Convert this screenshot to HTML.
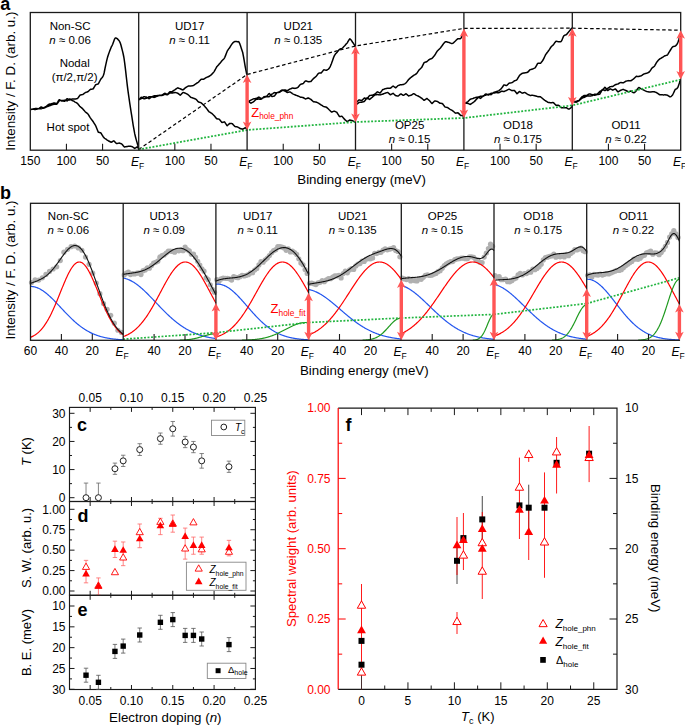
<!DOCTYPE html>
<html><head><meta charset="utf-8"><style>
html,body{margin:0;padding:0;background:#fff;}
body{width:685px;height:725px;overflow:hidden;}
svg{display:block;}
text{font-family:"Liberation Sans", sans-serif;}
</style></head><body>
<svg width="685" height="725" viewBox="0 0 685 725" font-family="Liberation Sans, sans-serif">
<rect width="685" height="725" fill="#fff"/>
<g id="pa">
<path d="M30.7,109.3L31.2,109.32L31.7,109.33L32.2,109.34L32.7,109.35L33.2,109.35L33.7,109.37L34.2,109.39L34.7,109.41L35.2,109.43L35.7,109.44L36.2,109.37L36.7,109.25L37.2,109.12L37.7,108.99L38.2,108.86L38.7,108.64L39.2,108.28L39.7,107.92L40.2,107.56L40.7,107.2L41.2,106.96L41.7,107.21L42.2,107.45L42.7,107.69L43.2,107.93L43.7,108.15L44.2,107.94L44.7,107.73L45.2,107.5L45.7,107.27L46.2,107.03L46.7,106.84L47.2,106.65L47.7,106.46L48.2,106.27L48.7,106.07L49.2,105.87L49.7,105.68L50.2,105.48L50.7,105.28L51.2,105.08L51.7,104.91L52.2,104.77L52.7,104.64L53.2,104.5L53.7,104.38L54.2,104.28L54.7,104.3L55.2,104.32L55.7,104.33L56.2,104.34L56.7,104.34L57.2,103.64L57.7,102.94L58.2,102.24L58.7,101.54L59.2,100.85L59.7,100.64L60.2,100.57L60.7,100.51L61.2,100.46L61.7,100.43L62.2,100.52L62.7,100.7L63.2,100.9L63.7,101.13L64.2,101.37L64.7,101.3L65.2,100.73L65.7,100.16L66.2,99.6L66.7,99.04L67.2,98.65L67.7,98.92L68.2,99.19L68.7,99.46L69.2,99.73L69.7,100L70.2,99.8L70.7,99.6L71.2,99.4L71.7,99.19L72.2,98.98L72.7,98.99L73.2,99.05L73.7,99.09L74.2,99.1L74.7,99.09L75.2,99.04L75.7,98.96L76.2,98.85L76.7,98.74L77.2,98.6L77.7,98.26L78.2,97.6L78.7,96.94L79.2,96.27L79.7,95.59L80.2,95.03L80.7,94.93L81.2,94.83L81.7,94.73L82.2,94.63L82.7,94.52L83.2,94.17L83.7,93.79L84.2,93.41L84.7,93.02L85.2,92.61L85.7,92.42L86.2,92.27L86.7,92.12L87.2,91.95L87.7,91.78L88.2,91.43L88.7,90.96L89.2,90.48L89.7,90L90.2,89.52L90.7,89.21L91.2,89.18L91.7,89.14L92.2,89.1L92.7,89.04L93.2,88.83L93.7,88.01L94.2,87.18L94.7,86.34L95.2,85.49L95.7,84.62L96.2,84.52L96.7,84.4L97.2,84.26L97.7,84.12L98.2,83.96L98.7,83.17L99.2,82.21L99.7,81.24L100.2,80.26L100.7,79.31L101.2,78.62L101.7,78.08L102.2,77.46L102.7,76.72L103.2,75.83L103.7,74.56L104.2,72.49L104.7,70.01L105.2,67.47L105.7,65.2L106.2,62.93L106.7,60.68L107.2,58.58L107.7,56.74L108.2,55.21L108.7,53.83L109.2,52.38L109.7,51.01L110.2,49.7L110.7,48.43L111.2,47.15L111.7,46.2L112.2,45.28L112.7,44.2L113.2,42.86L113.7,41.46L114.2,40.03L114.7,38.8L115.2,38.06L115.7,37.94L116.2,38.08L116.7,38.33L117.2,38.68L117.7,39.13L118.2,39.65L118.7,40.25L119.2,40.91L119.7,41.71L120.2,42.83L120.7,44.3L121.2,46.05L121.7,48.05L122.2,49.91L122.7,51.9L123.2,53.99L123.7,56.49L124.2,59.48L124.7,63.15L125.2,67.19L125.7,71.46L126.2,75.85L126.7,80.27L127.2,84.54L127.7,88.6L128.2,92.4L128.7,95.91L129.2,99.36L129.7,102.78L130.2,106.11L130.7,109.39L131.2,112.59L131.7,115.69L132.2,118.77L132.7,122.11L133.2,125.28L133.7,128.22L134.2,130.99L134.7,133.67L135.2,135.74L135.7,137.72L136.2,139.59L136.7,141.35L137.2,142.99L137.7,144.72L138.2,146.37L138.6,147.9M30.7,109.5L31.2,109.4L31.7,109.29L32.2,109.17L32.7,109.05L33.2,108.92L33.7,108.84L34.2,108.77L34.7,108.69L35.2,108.61L35.7,108.52L36.2,108.52L36.7,108.57L37.2,108.62L37.7,108.67L38.2,108.72L38.7,108.76L39.2,108.79L39.7,108.82L40.2,108.84L40.7,108.87L41.2,108.84L41.7,108.63L42.2,108.41L42.7,108.19L43.2,107.96L43.7,107.72L44.2,107.46L44.7,107.19L45.2,106.92L45.7,106.63L46.2,106.34L46.7,105.96L47.2,105.57L47.7,105.16L48.2,104.76L48.7,104.35L49.2,104.14L49.7,104.05L50.2,103.97L50.7,103.89L51.2,103.81L51.7,103.69L52.2,103.51L52.7,103.34L53.2,103.17L53.7,103.01L54.2,102.92L54.7,103.06L55.2,103.2L55.7,103.34L56.2,103.46L56.7,103.58L57.2,102.82L57.7,102.05L58.2,101.28L58.7,100.51L59.2,99.75L59.7,99.83L60.2,100.12L60.7,100.42L61.2,100.74L61.7,101.08L62.2,101.05L62.7,100.79L63.2,100.55L63.7,100.35L64.2,100.17L64.7,100.13L65.2,100.3L65.7,100.48L66.2,100.66L66.7,100.84L67.2,100.9L67.7,100.5L68.2,100.09L68.7,99.69L69.2,99.29L69.7,98.9L70.2,99.22L70.7,99.54L71.2,99.86L71.7,100.19L72.2,100.52L72.7,100.71L73.2,100.89L73.7,101.14L74.2,101.45L74.7,101.81L75.2,102.1L75.7,102.34L76.2,102.61L76.7,102.92L77.2,103.25L77.7,103.7L78.2,104.32L78.7,104.93L79.2,105.55L79.7,106.16L80.2,106.7L80.7,107.07L81.2,107.47L81.7,107.9L82.2,108.35L82.7,108.82L83.2,109.38L83.7,109.95L84.2,110.54L84.7,111.14L85.2,111.75L85.7,112.18L86.2,112.57L86.7,112.96L87.2,113.35L87.7,113.74L88.2,114.38L88.7,115.19L89.2,115.98L89.7,116.79L90.2,117.61L90.7,118.37L91.2,119.02L91.7,119.69L92.2,120.35L92.7,121.03L93.2,121.73L93.7,122.55L94.2,123.36L94.7,124.17L95.2,124.98L95.7,125.78L96.2,127.05L96.7,128.31L97.2,129.55L97.7,130.79L98.2,132.02L98.7,132.34L99.2,132.45L99.7,132.58L100.2,132.71L100.7,132.84L101.2,133.41L101.7,134.28L102.2,135.13L102.7,135.94L103.2,136.73L103.7,137.38L104.2,137.86L104.7,138.28L105.2,138.64L105.7,138.97L106.2,139.3L106.7,139.68L107.2,140.04L107.7,140.38L108.2,140.72L108.7,141.04L109.2,141.29L109.7,141.53L110.2,141.76L110.7,141.98L111.2,142.19L111.7,142.01L112.2,141.73L112.7,141.45L113.2,141.16L113.7,140.86L114.2,141.08L114.7,141.65L115.2,142.21L115.7,142.77L116.2,143.32L116.7,143.61L117.2,143.49L117.7,143.37L118.2,143.25L118.7,143.12L119.2,143.05L119.7,143.22L120.2,143.39L120.7,143.56L121.2,143.72L121.7,143.88L122.2,144.49L122.7,145.09L123.2,145.69L123.7,146.29L124.2,146.89L124.7,146.94L125.2,146.86L125.7,146.77L126.2,146.68L126.7,146.59L127.2,146.51L127.7,146.43L128.2,146.35L128.7,146.26L129.2,146.18L129.7,146.16L130.2,146.25L130.7,146.34L131.2,146.42L131.7,146.51L132.2,146.64L132.7,146.99L133.2,147.34L133.7,147.69L134.2,148.03L134.7,148.38L135.2,148.09L135.7,147.81L136.2,147.52L136.7,147.22L137.2,146.93L137.7,147.42L138.2,148.1L138.6,148.8M138.7,99.7L139.2,99.21L139.7,98.72L140.2,98.23L140.7,97.74L141.2,97.25L141.7,97.42L142.2,97.74L142.7,98.06L143.2,98.39L143.7,98.72L144.2,98.79L144.7,98.68L145.2,98.58L145.7,98.48L146.2,98.38L146.7,98.2L147.2,97.9L147.7,97.6L148.2,97.3L148.7,97L149.2,96.76L149.7,96.76L150.2,96.76L150.7,96.77L151.2,96.77L151.7,96.78L152.2,96.9L152.7,97.02L153.2,97.15L153.7,97.27L154.2,97.4L154.7,97.25L155.2,97.03L155.7,96.81L156.2,96.6L156.7,96.38L157.2,96.2L157.7,96.04L158.2,95.88L158.7,95.72L159.2,95.56L159.7,95.43L160.2,95.33L160.7,95.24L161.2,95.15L161.7,95.07L162.2,94.94L162.7,94.6L163.2,94.27L163.7,93.93L164.2,93.6L164.7,93.26L165.2,93.51L165.7,93.76L166.2,94.01L166.7,94.25L167.2,94.48L167.7,94.1L168.2,93.55L168.7,92.99L169.2,92.43L169.7,91.86L170.2,91.68L170.7,91.74L171.2,91.72L171.7,91.65L172.2,91.53L172.7,91.29L173.2,90.9L173.7,90.52L174.2,90.17L174.7,89.87L175.2,89.6L175.7,89.22L176.2,88.85L176.7,88.5L177.2,88.16L177.7,87.84L178.2,88.02L178.7,88.21L179.2,88.41L179.7,88.61L180.2,88.81L180.7,89.03L181.2,89.26L181.7,89.49L182.2,89.71L182.7,89.93L183.2,89.76L183.7,89.32L184.2,88.88L184.7,88.42L185.2,87.95L185.7,87.55L186.2,87.25L186.7,86.95L187.2,86.63L187.7,86.31L188.2,86.04L188.7,86.04L189.2,86.03L189.7,86.02L190.2,86L190.7,85.97L191.2,85.91L191.7,85.85L192.2,85.77L192.7,85.7L193.2,85.62L193.7,85.32L194.2,84.96L194.7,84.6L195.2,84.23L195.7,83.87L196.2,83.54L196.7,83.24L197.2,82.93L197.7,82.61L198.2,82.29L198.7,81.87L199.2,81.33L199.7,80.78L200.2,80.22L200.7,79.66L201.2,79.21L201.7,79.22L202.2,79.22L202.7,79.22L203.2,79.22L203.7,79.22L204.2,78.88L204.7,78.55L205.2,78.21L205.7,77.88L206.2,77.54L206.7,77.33L207.2,77.14L207.7,76.94L208.2,76.74L208.7,76.54L209.2,76.26L209.7,75.92L210.2,75.57L210.7,75.21L211.2,74.84L211.7,74.4L212.2,73.85L212.7,73.28L213.2,72.71L213.7,72.12L214.2,71.46L214.7,70.57L215.2,69.67L215.7,68.75L216.2,67.82L216.7,66.87L217.2,66.35L217.7,65.8L218.2,65.25L218.7,64.68L219.2,64.09L219.7,63.5L220.2,62.91L220.7,62.29L221.2,61.67L221.7,61.02L222.2,60.47L222.7,59.98L223.2,59.47L223.7,58.95L224.2,58.4L224.7,57.58L225.2,56.39L225.7,55.13L226.2,53.82L226.7,52.47L227.2,51.21L227.7,50.41L228.2,49.63L228.7,48.91L229.2,48.27L229.7,47.72L230.2,46.74L230.7,45.91L231.2,45.15L231.7,44.38L232.2,43.63L232.7,43.07L233.2,42.59L233.7,42.17L234.2,41.82L234.7,41.56L235.2,41.43L235.7,41.44L236.2,41.5L236.7,41.57L237.2,41.64L237.7,41.65L238.2,41.58L238.7,41.78L239.2,42.48L239.7,43.58L240.2,44.95L240.7,46.36L241.2,47.9L241.7,49.49L242.2,51.03L242.7,52.5L243.2,55.05L243.7,57.74L244.2,60.56L244.7,63.51L245.2,66.56L245.7,69.06L246.2,71.49L246.7,74.01L247.1,74.5M138.7,99.9L139.2,99.66L139.7,99.41L140.2,99.17L140.7,98.93L141.2,98.69L141.7,98.33L142.2,97.95L142.7,97.56L143.2,97.18L143.7,96.79L144.2,96.7L144.7,96.79L145.2,96.88L145.7,96.98L146.2,97.07L146.7,97.26L147.2,97.58L147.7,97.89L148.2,98.21L148.7,98.53L149.2,98.72L149.7,98.35L150.2,97.98L150.7,97.62L151.2,97.25L151.7,96.88L152.2,96.67L152.7,96.46L153.2,96.25L153.7,96.04L154.2,95.83L154.7,95.77L155.2,95.74L155.7,95.71L156.2,95.69L156.7,95.67L157.2,95.62L157.7,95.54L158.2,95.47L158.7,95.4L159.2,95.33L159.7,95.31L160.2,95.35L160.7,95.39L161.2,95.42L161.7,95.46L162.2,95.44L162.7,95.2L163.2,94.96L163.7,94.72L164.2,94.48L164.7,94.24L165.2,94.36L165.7,94.49L166.2,94.62L166.7,94.74L167.2,94.87L167.7,94.58L168.2,94.19L168.7,93.8L169.2,93.42L169.7,93.03L170.2,92.89L170.7,92.92L171.2,92.95L171.7,92.99L172.2,93.03L172.7,93.01L173.2,92.89L173.7,92.78L174.2,92.68L174.7,92.58L175.2,92.53L175.7,92.64L176.2,92.75L176.7,92.88L177.2,93.02L177.7,93.16L178.2,93.56L178.7,93.96L179.2,94.37L179.7,94.78L180.2,95.21L180.7,94.84L181.2,94.28L181.7,93.73L182.2,93.18L182.7,92.64L183.2,92.51L183.7,92.65L184.2,92.8L184.7,92.95L185.2,93.1L185.7,93.31L186.2,93.6L186.7,93.88L187.2,94.18L187.7,94.47L188.2,94.8L188.7,95.26L189.2,95.74L189.7,96.25L190.2,96.79L190.7,97.35L191.2,97.47L191.7,97.61L192.2,97.78L192.7,97.96L193.2,98.15L193.7,98.33L194.2,98.5L194.7,98.68L195.2,98.88L195.7,99.07L196.2,99.49L196.7,100.04L197.2,100.6L197.7,101.15L198.2,101.7L198.7,102.07L199.2,102.2L199.7,102.33L200.2,102.48L200.7,102.64L201.2,102.86L201.7,103.33L202.2,103.81L202.7,104.29L203.2,104.78L203.7,105.27L204.2,105.81L204.7,106.35L205.2,106.9L205.7,107.44L206.2,107.99L206.7,108.65L207.2,109.34L207.7,110.03L208.2,110.71L208.7,111.39L209.2,111.84L209.7,112.14L210.2,112.43L210.7,112.72L211.2,112.99L211.7,113.34L212.2,113.81L212.7,114.27L213.2,114.73L213.7,115.2L214.2,115.7L214.7,116.31L215.2,116.92L215.7,117.54L216.2,118.15L216.7,118.75L217.2,118.84L217.7,118.93L218.2,119.01L218.7,119.09L219.2,119.15L219.7,119.7L220.2,120.36L220.7,121L221.2,121.64L221.7,122.26L222.2,122.44L222.7,122.31L223.2,122.17L223.7,122.02L224.2,121.85L224.7,122.06L225.2,122.85L225.7,123.63L226.2,124.4L226.7,125.17L227.2,125.69L227.7,125.24L228.2,124.79L228.7,124.33L229.2,123.87L229.7,123.4L230.2,123.46L230.7,123.51L231.2,123.55L231.7,123.59L232.2,123.64L232.7,124.1L233.2,124.66L233.7,125.22L234.2,125.78L234.7,126.34L235.2,126.6L235.7,126.68L236.2,126.75L236.7,126.82L237.2,126.88L237.7,127.05L238.2,127.36L238.7,127.67L239.2,127.98L239.7,128.28L240.2,128.55L240.7,128.69L241.2,128.83L241.7,128.97L242.2,129.1L242.7,129.24L243.2,128.94L243.7,128.64L244.2,128.34L244.7,128.04L245.2,127.74L245.7,127.96L246.2,128.32L246.7,128.68L247.1,129.4M248.4,101.4L248.9,101.77L249.4,102.12L249.9,102.47L250.4,102.8L250.9,103.13L251.4,102.98L251.9,102.7L252.4,102.41L252.9,102.12L253.4,101.82L253.9,101.42L254.4,100.97L254.9,100.5L255.4,100.04L255.9,99.57L256.4,99.27L256.9,99.23L257.4,99.19L257.9,99.14L258.4,99.1L258.9,99.07L259.4,99.13L259.9,99.16L260.4,99.16L260.9,99.14L261.4,99.11L261.9,98.65L262.4,98.18L262.9,97.72L263.4,97.25L263.9,96.8L264.4,96.65L264.9,96.6L265.4,96.57L265.9,96.57L266.4,96.6L266.9,96.22L267.4,95.56L267.9,94.91L268.4,94.27L268.9,93.64L269.4,93.52L269.9,94.14L270.4,94.78L270.9,95.41L271.4,96.05L271.9,96.54L272.4,96.44L272.9,96.34L273.4,96.23L273.9,96.12L274.4,96.01L274.9,95.35L275.4,94.68L275.9,94L276.4,93.31L276.9,92.61L277.4,92.5L277.9,92.5L278.4,92.47L278.9,92.4L279.4,92.32L279.9,92.07L280.4,91.71L280.9,91.36L281.4,91.01L281.9,90.69L282.4,90.42L282.9,90.25L283.4,90.11L283.9,90.02L284.4,89.94L284.9,89.92L285.4,90.06L285.9,90.21L286.4,90.37L286.9,90.53L287.4,90.7L287.9,90.37L288.4,90.05L288.9,89.72L289.4,89.39L289.9,89.05L290.4,88.86L290.9,88.69L291.4,88.51L291.9,88.32L292.4,88.12L292.9,88.1L293.4,88.2L293.9,88.28L294.4,88.34L294.9,88.39L295.4,88.35L295.9,88.2L296.4,88.04L296.9,87.87L297.4,87.69L297.9,87.42L298.4,86.81L298.9,86.2L299.4,85.59L299.9,84.99L300.4,84.38L300.9,84.23L301.4,84.08L301.9,83.94L302.4,83.82L302.9,83.69L303.4,83.22L303.9,82.67L304.4,82.12L304.9,81.56L305.4,81.01L305.9,80.9L306.4,81.08L306.9,81.26L307.4,81.44L307.9,81.61L308.4,81.71L308.9,81.68L309.4,81.65L309.9,81.62L310.4,81.58L310.9,81.44L311.4,80.88L311.9,80.31L312.4,79.74L312.9,79.17L313.4,78.6L313.9,78.21L314.4,77.81L314.9,77.41L315.4,77.01L315.9,76.61L316.4,76.02L316.9,75.37L317.4,74.72L317.9,74.07L318.4,73.41L318.9,73.14L319.4,73.12L319.9,73.09L320.4,73.06L320.9,73.03L321.4,72.76L321.9,72.12L322.4,71.48L322.9,70.84L323.4,70.2L323.9,69.71L324.4,69.85L324.9,69.99L325.4,70.11L325.9,70.21L326.4,70.29L326.9,70.03L327.4,69.74L327.9,69.42L328.4,69.07L328.9,68.68L329.4,67.99L329.9,67.09L330.4,66.06L330.9,64.92L331.4,63.71L331.9,62.36L332.4,60.93L332.9,59.5L333.4,58.11L333.9,56.79L334.4,55.66L334.9,54.82L335.4,54.12L335.9,53.57L336.4,53.08L336.9,52.58L337.4,51.9L337.9,51.24L338.4,50.62L338.9,50.01L339.4,49.42L339.9,49.21L340.4,49L340.9,48.79L341.4,48.58L341.9,48.35L342.4,47.98L342.9,47.55L343.4,47.08L343.9,46.58L344.4,46.06L344.9,45.51L345.4,44.93L345.9,44.36L346.4,43.81L346.9,43.27L347.4,42.59L347.9,41.69L348.4,40.84L348.9,40.04L349.4,39.3L349.9,38.84L350.4,39.24L350.9,39.74L351.4,40.38L351.9,41.17L352.4,42.09L352.9,42.65L353.4,43.32L353.9,44.07L354.4,44.89L354.9,45.76L355.3,46M248.4,101.6L248.9,101.29L249.4,100.98L249.9,100.67L250.4,100.36L250.9,100.05L251.4,99.8L251.9,99.56L252.4,99.33L252.9,99.09L253.4,98.86L253.9,98.74L254.4,98.69L254.9,98.64L255.4,98.59L255.9,98.55L256.4,98.41L256.9,98.12L257.4,97.83L257.9,97.55L258.4,97.26L258.9,97.1L259.4,97.41L259.9,97.72L260.4,98.04L260.9,98.35L261.4,98.67L261.9,98.42L262.4,98.18L262.9,97.93L263.4,97.7L263.9,97.47L264.4,97.29L264.9,97.13L265.4,96.97L265.9,96.81L266.4,96.66L266.9,96.61L267.4,96.63L267.9,96.64L268.4,96.66L268.9,96.68L269.4,96.5L269.9,96.02L270.4,95.55L270.9,95.07L271.4,94.58L271.9,94.13L272.4,93.85L272.9,93.56L273.4,93.24L273.9,92.91L274.4,92.57L274.9,92.63L275.4,92.69L275.9,92.74L276.4,92.78L276.9,92.83L277.4,92.64L277.9,92.4L278.4,92.17L278.9,91.95L279.4,91.73L279.9,91.42L280.4,91.04L280.9,90.68L281.4,90.34L281.9,90.03L282.4,89.92L282.9,90.1L283.4,90.31L283.9,90.55L284.4,90.83L284.9,91.11L285.4,91.36L285.9,91.63L286.4,91.93L286.9,92.24L287.4,92.57L287.9,92.41L288.4,92.26L288.9,92.13L289.4,92L289.9,91.88L290.4,92.14L290.9,92.51L291.4,92.87L291.9,93.23L292.4,93.59L292.9,93.89L293.4,94.14L293.9,94.37L294.4,94.6L294.9,94.82L295.4,95.02L295.9,95.21L296.4,95.39L296.9,95.58L297.4,95.76L297.9,95.94L298.4,96.19L298.9,96.43L299.4,96.67L299.9,96.9L300.4,97.14L300.9,97.21L301.4,97.28L301.9,97.35L302.4,97.42L302.9,97.49L303.4,97.73L303.9,98.02L304.4,98.32L304.9,98.61L305.4,98.91L305.9,98.9L306.4,98.68L306.9,98.47L307.4,98.26L307.9,98.06L308.4,98.04L308.9,98.29L309.4,98.55L309.9,98.82L310.4,99.1L310.9,99.42L311.4,99.88L311.9,100.34L312.4,100.81L312.9,101.29L313.4,101.77L313.9,101.81L314.4,101.85L314.9,101.9L315.4,101.94L315.9,101.99L316.4,102.19L316.9,102.44L317.4,102.68L317.9,102.92L318.4,103.15L318.9,103.45L319.4,103.79L319.9,104.12L320.4,104.45L320.9,104.78L321.4,105.1L321.9,105.41L322.4,105.72L322.9,106.03L323.4,106.34L323.9,106.62L324.4,106.72L324.9,106.82L325.4,106.93L325.9,107.04L326.4,107.16L326.9,107.62L327.4,108.09L327.9,108.56L328.4,109.05L328.9,109.55L329.4,110.02L329.9,110.48L330.4,110.95L330.9,111.43L331.4,111.91L331.9,111.98L332.4,111.78L332.9,111.58L333.4,111.38L333.9,111.18L334.4,111.16L334.9,111.41L335.4,111.65L335.9,111.89L336.4,112.13L336.9,112.47L337.4,113.3L337.9,114.11L338.4,114.91L338.9,115.7L339.4,116.48L339.9,116.45L340.4,116.42L340.9,116.38L341.4,116.34L341.9,116.29L342.4,116.76L342.9,117.37L343.4,117.96L343.9,118.56L344.4,119.15L344.9,119.65L345.4,120.09L345.9,120.53L346.4,120.97L346.9,121.4L347.4,121.53L347.9,121.2L348.4,120.87L348.9,120.53L349.4,120.2L349.9,119.97L350.4,120.11L350.9,120.25L351.4,120.39L351.9,120.53L352.4,120.66L352.9,120.9L353.4,121.14L353.9,121.38L354.4,121.61L354.9,121.85L355.3,122M356.6,102L357.1,101.59L357.6,101.18L358.1,100.77L358.6,100.35L359.1,99.94L359.6,99.97L360.1,100.11L360.6,100.25L361.1,100.39L361.6,100.52L362.1,100.27L362.6,99.75L363.1,99.24L363.6,98.72L364.1,98.2L364.6,97.97L365.1,98.17L365.6,98.36L366.1,98.56L366.6,98.75L367.1,98.78L367.6,98.12L368.1,97.46L368.6,96.81L369.1,96.15L369.6,95.5L370.1,95.44L370.6,95.38L371.1,95.32L371.6,95.26L372.1,95.21L372.6,95.04L373.1,94.85L373.6,94.66L374.1,94.47L374.6,94.28L375.1,93.92L375.6,93.45L376.1,92.98L376.6,92.5L377.1,92.03L377.6,91.85L378.1,92.13L378.6,92.41L379.1,92.69L379.6,92.97L380.1,93.05L380.6,92.4L381.1,91.74L381.6,91.08L382.1,90.42L382.6,89.76L383.1,89.55L383.6,89.35L384.1,89.15L384.6,88.95L385.1,88.75L385.6,88.63L386.1,88.52L386.6,88.42L387.1,88.32L387.6,88.22L388.1,88.19L388.6,88.2L389.1,88.22L389.6,88.24L390.1,88.26L390.6,88.1L391.1,87.64L391.6,87.19L392.1,86.75L392.6,86.32L393.1,86.05L393.6,86.4L394.1,86.75L394.6,87.11L395.1,87.47L395.6,87.84L396.1,87.39L396.6,86.93L397.1,86.48L397.6,86.03L398.1,85.57L398.6,85.36L399.1,85.21L399.6,85.05L400.1,84.89L400.6,84.73L401.1,84.66L401.6,84.65L402.1,84.64L402.6,84.61L403.1,84.57L403.6,84.43L404.1,84.14L404.6,83.84L405.1,83.52L405.6,83.14L406.1,82.69L406.6,82.14L407.1,81.54L407.6,80.9L408.1,80.23L408.6,79.54L409.1,79.09L409.6,78.62L410.1,78.16L410.6,77.72L411.1,77.29L411.6,76.91L412.1,76.54L412.6,76.17L413.1,75.79L413.6,75.4L414.1,75.09L414.6,74.82L415.1,74.55L415.6,74.28L416.1,74.01L416.6,73.55L417.1,72.81L417.6,72.08L418.1,71.34L418.6,70.61L419.1,69.92L419.6,69.45L420.1,68.97L420.6,68.5L421.1,68.03L421.6,67.56L422.1,66.58L422.6,65.6L423.1,64.63L423.6,63.65L424.1,62.68L424.6,62.36L425.1,62.21L425.6,62.06L426.1,61.91L426.6,61.76L427.1,61.44L427.6,61L428.1,60.55L428.6,60.11L429.1,59.66L429.6,59.32L430.1,59.14L430.6,58.95L431.1,58.76L431.6,58.56L432.1,58.29L432.6,57.73L433.1,57.17L433.6,56.59L434.1,56.01L434.6,55.42L435.1,54.59L435.6,53.77L436.1,52.94L436.6,52.11L437.1,51.29L437.6,50.73L438.1,50.24L438.6,49.77L439.1,49.3L439.6,48.85L440.1,48.31L440.6,47.71L441.1,47.06L441.6,46.38L442.1,45.69L442.6,44.99L443.1,44.29L443.6,43.62L444.1,42.99L444.6,42.42L445.1,41.96L445.6,41.79L446.1,41.72L446.6,41.76L447.1,41.91L447.6,42.15L448.1,42.25L448.6,42.4L449.1,42.56L449.6,42.72L450.1,42.87L450.6,43.12L451.1,43.35L451.6,43.5L452.1,43.5L452.6,43.36L453.1,43.07L453.6,42.67L454.1,42.22L454.6,41.75L455.1,41.28L455.6,40.77L456.1,40.2L456.6,39.73L457.1,39.31L457.6,38.93L458.1,38.65L458.6,38.68L459.1,38.71L459.6,38.72L460.1,38.7L460.6,38.63L461.1,37.89L461.6,37.03L462.1,35.98L462.6,34.78L463.1,33.5L463.5,33.7M356.6,104.3L357.1,103.93L357.6,103.56L358.1,103.19L358.6,102.83L359.1,102.48L359.6,102.37L360.1,102.34L360.6,102.3L361.1,102.27L361.6,102.23L362.1,102.13L362.6,101.98L363.1,101.84L363.6,101.69L364.1,101.55L364.6,101.18L365.1,100.47L365.6,99.76L366.1,99.06L366.6,98.36L367.1,97.87L367.6,98.18L368.1,98.49L368.6,98.81L369.1,99.14L369.6,99.47L370.1,99.03L370.6,98.6L371.1,98.17L371.6,97.76L372.1,97.35L372.6,96.9L373.1,96.44L373.6,95.99L374.1,95.56L374.6,95.14L375.1,94.91L375.6,94.82L376.1,94.74L376.6,94.66L377.1,94.59L377.6,94.58L378.1,94.64L378.6,94.71L379.1,94.78L379.6,94.85L380.1,94.89L380.6,94.75L381.1,94.61L381.6,94.48L382.1,94.35L382.6,94.22L383.1,94.01L383.6,93.79L384.1,93.58L384.6,93.37L385.1,93.17L385.6,93.02L386.1,92.89L386.6,92.77L387.1,92.64L387.6,92.52L388.1,92.75L388.6,93.2L389.1,93.66L389.6,94.12L390.1,94.59L390.6,94.74L391.1,94.43L391.6,94.12L392.1,93.82L392.6,93.52L393.1,93.36L393.6,93.81L394.1,94.26L394.6,94.71L395.1,95.16L395.6,95.6L396.1,95.7L396.6,95.8L397.1,95.9L397.6,95.99L398.1,96.09L398.6,95.75L399.1,95.3L399.6,94.85L400.1,94.39L400.6,93.94L401.1,93.96L401.6,94.29L402.1,94.62L402.6,94.95L403.1,95.28L403.6,95.34L404.1,94.99L404.6,94.65L405.1,94.3L405.6,93.96L406.1,93.77L406.6,94.21L407.1,94.66L407.6,95.1L408.1,95.55L408.6,96L409.1,95.81L409.6,95.64L410.1,95.49L410.6,95.35L411.1,95.23L411.6,94.94L412.1,94.61L412.6,94.29L413.1,93.98L413.6,93.67L414.1,93.75L414.6,94.1L415.1,94.44L415.6,94.78L416.1,95.12L416.6,95.4L417.1,95.6L417.6,95.82L418.1,96.05L418.6,96.29L419.1,96.55L419.6,96.87L420.1,97.19L420.6,97.51L421.1,97.84L421.6,98.17L422.1,98.6L422.6,99.04L423.1,99.47L423.6,99.89L424.1,100.31L424.6,100.09L425.1,99.7L425.6,99.31L426.1,98.9L426.6,98.47L427.1,98.57L427.6,99.02L428.1,99.45L428.6,99.88L429.1,100.29L429.6,100.78L430.1,101.4L430.6,102L431.1,102.61L431.6,103.21L432.1,103.58L432.6,103.06L433.1,102.54L433.6,102.02L434.1,101.51L434.6,101L435.1,101.05L435.6,101.1L436.1,101.17L436.6,101.24L437.1,101.33L437.6,101.59L438.1,101.92L438.6,102.27L439.1,102.65L439.6,103.05L440.1,103.24L440.6,103.29L441.1,103.35L441.6,103.42L442.1,103.49L442.6,103.8L443.1,104.47L443.6,105.14L444.1,105.79L444.6,106.43L445.1,106.96L445.6,107.11L446.1,107.24L446.6,107.37L447.1,107.49L447.6,107.6L448.1,107.95L448.6,108.3L449.1,108.65L449.6,109L450.1,109.36L450.6,109.63L451.1,109.9L451.6,110.17L452.1,110.45L452.6,110.74L453.1,111.12L453.6,111.56L454.1,112L454.6,112.46L455.1,112.92L455.6,113.16L456.1,113.07L456.6,112.99L457.1,112.91L457.6,112.84L458.1,112.89L458.6,113.38L459.1,113.88L459.6,114.38L460.1,114.89L460.6,115.41L461.1,115.42L461.6,115.44L462.1,115.46L462.6,115.5L463.1,115.53L463.5,117.5M465,103.1L465.5,102.85L466,102.61L466.5,102.37L467,102.14L467.5,101.92L468,101.46L468.5,100.95L469,100.45L469.5,99.95L470,99.47L470.5,99.18L471,99.02L471.5,98.87L472,98.74L472.5,98.62L473,98.46L473.5,98.26L474,98.07L474.5,97.89L475,97.73L475.5,97.58L476,97.45L476.5,97.33L477,97.22L477.5,97.11L478,97.01L478.5,97.28L479,97.55L479.5,97.82L480,98.09L480.5,98.37L481,98.01L481.5,97.49L482,96.97L482.5,96.45L483,95.92L483.5,95.65L484,95.54L484.5,95.42L485,95.29L485.5,95.16L486,95.01L486.5,94.85L487,94.68L487.5,94.51L488,94.34L488.5,94.22L489,94.33L489.5,94.43L490,94.53L490.5,94.63L491,94.72L491.5,94.3L492,93.87L492.5,93.43L493,92.99L493.5,92.54L494,92.34L494.5,92.18L495,92.02L495.5,91.85L496,91.65L496.5,91.5L497,91.36L497.5,91.2L498,91.03L498.5,90.83L499,90.55L499.5,90.14L500,89.72L500.5,89.29L501,88.86L501.5,88.38L502,87.67L502.5,86.96L503,86.25L503.5,85.56L504,84.87L504.5,84.98L505,85.11L505.5,85.26L506,85.42L506.5,85.61L507,85.22L507.5,84.71L508,84.22L508.5,83.75L509,83.29L509.5,83.07L510,83.01L510.5,82.95L511,82.88L511.5,82.81L512,82.64L512.5,82.31L513,81.97L513.5,81.6L514,81.2L514.5,80.81L515,80.65L515.5,80.45L516,80.22L516.5,79.97L517,79.7L517.5,78.82L518,77.95L518.5,77.1L519,76.26L519.5,75.46L520,74.94L520.5,74.53L521,74.15L521.5,73.79L522,73.44L522.5,73.24L523,73.15L523.5,73.06L524,72.98L524.5,72.91L525,72.84L525.5,72.76L526,72.69L526.5,72.61L527,72.54L527.5,72.38L528,71.88L528.5,71.37L529,70.86L529.5,70.34L530,69.8L530.5,69.65L531,69.49L531.5,69.34L532,69.18L532.5,69.01L533,68.81L533.5,68.59L534,68.37L534.5,68.15L535,67.91L535.5,67.29L536,66.41L536.5,65.52L537,64.62L537.5,63.71L538,63.18L538.5,63.24L539,63.29L539.5,63.33L540,63.35L540.5,63.25L541,62.7L541.5,62.1L542,61.45L542.5,60.77L543,60.05L543.5,59.07L544,58.06L544.5,57.03L545,55.99L545.5,54.94L546,54.18L546.5,53.49L547,52.81L547.5,52.15L548,51.5L548.5,50.79L549,50.05L549.5,49.31L550,48.53L550.5,47.74L551,47.04L551.5,46.53L552,46.03L552.5,45.55L553,45.11L553.5,44.62L554,43.8L554.5,43.06L555,42.39L555.5,41.81L556,41.33L556.5,41.36L557,41.43L557.5,41.53L558,41.64L558.5,41.75L559,41.78L559.5,41.78L560,41.75L560.5,41.68L561,41.55L561.5,40.89L562,39.86L562.5,38.74L563,37.57L563.5,36.38L564,35.56L564.5,35.32L565,35.14L565.5,34.98L566,34.83L566.5,34.58L567,33.96L567.5,33.34L568,32.72L568.5,32.1L569,31.49L569.5,30.89L570,30.29L570.5,29.7L571,29.1L571.5,28.51L572,28.11L572.2,28.2M465,103.3L465.5,103.32L466,103.32L466.5,103.31L467,103.28L467.5,103.23L468,103.44L468.5,103.7L469,103.95L469.5,104.19L470,104.42L470.5,104.3L471,103.96L471.5,103.61L472,103.26L472.5,102.9L473,102.55L473.5,102.2L474,101.81L474.5,101.37L475,100.88L475.5,100.37L476,99.84L476.5,99.3L477,98.75L477.5,98.21L478,97.68L478.5,97.32L479,97L479.5,96.72L480,96.5L480.5,96.31L481,96.29L481.5,96.33L482,96.37L482.5,96.42L483,96.47L483.5,96.18L484,95.66L484.5,95.14L485,94.63L485.5,94.13L486,93.92L486.5,94.16L487,94.41L487.5,94.66L488,94.91L488.5,95.04L489,94.69L489.5,94.34L490,93.98L490.5,93.63L491,93.27L491.5,93.23L492,93.19L492.5,93.14L493,93.09L493.5,93.03L494,92.97L494.5,92.89L495,92.8L495.5,92.7L496,92.6L496.5,92.59L497,92.65L497.5,92.71L498,92.76L498.5,92.81L499,92.72L499.5,92.4L500,92.08L500.5,91.77L501,91.46L501.5,91.23L502,91.27L502.5,91.32L503,91.39L503.5,91.46L504,91.56L504.5,91.3L505,91.07L505.5,90.85L506,90.65L506.5,90.48L507,90.2L507.5,89.92L508,89.66L508.5,89.42L509,89.2L509.5,89.28L510,89.56L510.5,89.86L511,90.16L511.5,90.47L512,90.64L512.5,90.59L513,90.54L513.5,90.49L514,90.44L514.5,90.52L515,91.17L515.5,91.8L516,92.44L516.5,93.07L517,93.71L517.5,93.26L518,92.82L518.5,92.37L519,91.93L519.5,91.49L520,91.68L520.5,92.04L521,92.39L521.5,92.75L522,93.1L522.5,93.15L523,92.98L523.5,92.82L524,92.65L524.5,92.48L525,92.52L525.5,92.86L526,93.2L526.5,93.54L527,93.88L527.5,94.2L528,94.46L528.5,94.7L529,94.95L529.5,95.19L530,95.43L530.5,95.4L531,95.38L531.5,95.36L532,95.34L532.5,95.32L533,95.38L533.5,95.47L534,95.57L534.5,95.67L535,95.78L535.5,95.91L536,96.06L536.5,96.23L537,96.4L537.5,96.59L538,96.69L538.5,96.63L539,96.61L539.5,96.64L540,96.69L540.5,96.83L541,97.22L541.5,97.63L542,98.05L542.5,98.46L543,98.86L543.5,99.3L544,99.71L544.5,100.1L545,100.45L545.5,100.75L546,101.08L546.5,101.41L547,101.73L547.5,102.04L548,102.34L548.5,102.5L549,102.56L549.5,102.61L550,102.65L550.5,102.69L551,102.7L551.5,102.67L552,102.64L552.5,102.6L553,102.56L553.5,102.63L554,103.15L554.5,103.67L555,104.19L555.5,104.71L556,105.23L556.5,105.22L557,105.21L557.5,105.21L558,105.21L558.5,105.24L559,105.61L559.5,106.08L560,106.56L560.5,107.04L561,107.52L561.5,107.73L562,107.76L562.5,107.78L563,107.79L563.5,107.79L564,107.78L564.5,107.77L565,107.75L565.5,107.7L566,107.63L566.5,107.65L567,108.08L567.5,108.47L568,108.78L568.5,109L569,109.12L569.5,108.83L570,108.49L570.5,108.09L571,107.65L571.5,107.19L572,106.51L572.2,105.4M573.8,102L574.3,101.86L574.8,101.72L575.3,101.59L575.8,101.46L576.3,101.35L576.8,101.16L577.3,100.97L577.8,100.79L578.3,100.61L578.8,100.45L579.3,100L579.8,99.38L580.3,98.77L580.8,98.15L581.3,97.52L581.8,97.01L582.3,96.7L582.8,96.38L583.3,96.07L583.8,95.76L584.3,95.5L584.8,95.47L585.3,95.44L585.8,95.43L586.3,95.43L586.8,95.45L587.3,95.1L587.8,94.76L588.3,94.46L588.8,94.18L589.3,93.93L589.8,93.96L590.3,94.09L590.8,94.22L591.3,94.37L591.8,94.51L592.3,94.66L592.8,94.82L593.3,94.98L593.8,95.14L594.3,95.29L594.8,95.32L595.3,95.16L595.8,94.99L596.3,94.82L596.8,94.65L597.3,94.5L597.8,94.51L598.3,94.47L598.8,94.37L599.3,94.24L599.8,94.06L600.3,93.18L600.8,92.27L601.3,91.34L601.8,90.41L602.3,89.46L602.8,89.47L603.3,89.71L603.8,89.97L604.3,90.25L604.8,90.56L605.3,90.42L605.8,89.99L606.3,89.56L606.8,89.13L607.3,88.7L607.8,88.31L608.3,87.97L608.8,87.63L609.3,87.3L609.8,86.96L610.3,86.69L610.8,86.63L611.3,86.58L611.8,86.53L612.3,86.49L612.8,86.45L613.3,86.09L613.8,85.74L614.3,85.4L614.8,85.06L615.3,84.73L615.8,84.55L616.3,84.4L616.8,84.27L617.3,84.13L617.8,84L618.3,83.77L618.8,83.49L619.3,83.2L619.8,82.91L620.3,82.62L620.8,82.49L621.3,82.58L621.8,82.68L622.3,82.76L622.8,82.84L623.3,82.84L623.8,82.54L624.3,82.23L624.8,81.91L625.3,81.58L625.8,81.25L626.3,81.13L626.8,81.01L627.3,80.89L627.8,80.76L628.3,80.62L628.8,80.63L629.3,80.67L629.8,80.71L630.3,80.74L630.8,80.78L631.3,80.56L631.8,80.19L632.3,79.82L632.8,79.44L633.3,79.07L633.8,78.66L634.3,78.18L634.8,77.7L635.3,77.21L635.8,76.72L636.3,76.32L636.8,76.36L637.3,76.39L637.8,76.42L638.3,76.46L638.8,76.5L639.3,76.33L639.8,76.18L640.3,76.03L640.8,75.88L641.3,75.75L641.8,75.42L642.3,75.06L642.8,74.71L643.3,74.38L643.8,74.06L644.3,73.86L644.8,73.73L645.3,73.6L645.8,73.47L646.3,73.33L646.8,73.17L647.3,72.98L647.8,72.77L648.3,72.53L648.8,72.27L649.3,71.91L649.8,71.34L650.3,70.66L650.8,69.91L651.3,69.09L651.8,68.23L652.3,67.85L652.8,67.47L653.3,67.09L653.8,66.74L654.3,66.39L654.8,65.6L655.3,64.69L655.8,63.78L656.3,62.91L656.8,62.12L657.3,61.45L657.8,60.88L658.3,60.34L658.8,59.84L659.3,59.36L659.8,58.95L660.3,58.63L660.8,58.32L661.3,58.02L661.8,57.73L662.3,57.43L662.8,57.12L663.3,56.8L663.8,56.46L664.3,56.11L664.8,55.74L665.3,55.65L665.8,55.53L666.3,55.38L666.8,55.21L667.3,55.03L667.8,54.35L668.3,53.53L668.8,52.71L669.3,51.88L669.8,51.04L670.3,50.24L670.8,49.47L671.3,48.7L671.8,47.94L672.3,47.18L672.8,46.68L673.3,46.56L673.8,46.46L674.3,46.36L674.8,46.23L675.3,46.03L675.8,45.62L676.3,45.11L676.8,44.5L677.3,43.67L677.8,42.62L678.3,41.22L678.8,39.66L679.3,37.96L679.8,36.16L680.3,33.7M573.8,102L574.3,102.03L574.8,102.06L575.3,102.1L575.8,102.13L576.3,102.18L576.8,101.97L577.3,101.7L577.8,101.44L578.3,101.18L578.8,100.92L579.3,100.54L579.8,100.06L580.3,99.59L580.8,99.13L581.3,98.68L581.8,98.31L582.3,98.08L582.8,97.86L583.3,97.65L583.8,97.44L584.3,97.24L584.8,96.99L585.3,96.75L585.8,96.52L586.3,96.3L586.8,96.08L587.3,96.07L587.8,96.06L588.3,96.05L588.8,96.05L589.3,96.05L589.8,96.01L590.3,95.97L590.8,95.92L591.3,95.87L591.8,95.82L592.3,95.61L592.8,95.3L593.3,94.98L593.8,94.65L594.3,94.32L594.8,94.14L595.3,94.2L595.8,94.23L596.3,94.23L596.8,94.2L597.3,94.07L597.8,93.55L598.3,93.03L598.8,92.5L599.3,91.96L599.8,91.42L600.3,91.18L600.8,90.96L601.3,90.75L601.8,90.55L602.3,90.38L602.8,89.8L603.3,89.13L603.8,88.5L604.3,87.91L604.8,87.37L605.3,87.56L605.8,88.24L606.3,88.92L606.8,89.61L607.3,90.3L607.8,90.57L608.3,90.19L608.8,89.81L609.3,89.43L609.8,89.06L610.3,88.82L610.8,89.09L611.3,89.36L611.8,89.63L612.3,89.9L612.8,90.18L613.3,89.93L613.8,89.67L614.3,89.42L614.8,89.17L615.3,88.92L615.8,89.34L616.3,89.94L616.8,90.54L617.3,91.15L617.8,91.77L618.3,91.81L618.8,91.47L619.3,91.14L619.8,90.81L620.3,90.47L620.8,90.2L621.3,90.03L621.8,89.84L622.3,89.66L622.8,89.48L623.3,89.37L623.8,89.61L624.3,89.84L624.8,90.07L625.3,90.28L625.8,90.5L626.3,90.75L626.8,91L627.3,91.25L627.8,91.5L628.3,91.75L628.8,91.68L629.3,91.52L629.8,91.37L630.3,91.21L630.8,91.04L631.3,91.2L631.8,91.58L632.3,91.94L632.8,92.3L633.3,92.65L633.8,92.8L634.3,92.58L634.8,92.25L635.3,91.83L635.8,91.34L636.3,90.78L636.8,90.02L637.3,89.29L637.8,88.61L638.3,88.03L638.8,87.57L639.3,87.77L639.8,88.01L640.3,88.29L640.8,88.58L641.3,88.9L641.8,89.15L642.3,89.39L642.8,89.64L643.3,89.89L643.8,90.14L644.3,90.4L644.8,90.67L645.3,90.91L645.8,91.14L646.3,91.37L646.8,91.54L647.3,91.63L647.8,91.73L648.3,91.82L648.8,91.9L649.3,91.97L649.8,91.95L650.3,91.93L650.8,91.91L651.3,91.88L651.8,91.86L652.3,91.84L652.8,91.82L653.3,91.8L653.8,91.78L654.3,91.76L654.8,91.92L655.3,92.13L655.8,92.34L656.3,92.55L656.8,92.77L657.3,93.07L657.8,93.42L658.3,93.78L658.8,94.15L659.3,94.53L659.8,94.76L660.3,94.75L660.8,94.75L661.3,94.76L661.8,94.76L662.3,94.77L662.8,94.87L663.3,94.92L663.8,94.91L664.3,94.85L664.8,94.77L665.3,94.85L665.8,94.93L666.3,95.01L666.8,95.09L667.3,95.17L667.8,95.46L668.3,95.8L668.8,96.15L669.3,96.49L669.8,96.83L670.3,96.83L670.8,96.6L671.3,96.27L671.8,95.81L672.3,95.23L672.8,94.47L673.3,93.51L673.8,92.47L674.3,91.39L674.8,90.27L675.3,89.33L675.8,89.18L676.3,88.96L676.8,88.61L677.3,88.13L677.8,87.54L678.3,86.24L678.8,84.85L679.3,83.38L679.8,81.85L680.3,79.6" fill="none" stroke="#000" stroke-width="1.5" stroke-linejoin="round"/>
<polyline points="138.7,149.5 247.1,74.5 355.5,46 463.9,28.4 572.3,28.2 680.7,30.2" fill="none" stroke="#000" stroke-width="1.2" stroke-dasharray="3.5,2.5"/>
<polyline points="138.7,149.5 247.1,130 355.5,122 463.9,118 572.3,105.4 680.7,79.6" fill="none" stroke="#22b540" stroke-width="1.8" stroke-dasharray="1.9,1.6"/>
<rect x="30.3" y="12.5" width="650.4" height="137.7" fill="none" stroke="#1a1a1a" stroke-width="1.3"/>
<line x1="138.7" y1="12.5" x2="138.7" y2="150.2" stroke="#1a1a1a" stroke-width="1.3"/>
<line x1="247.1" y1="12.5" x2="247.1" y2="150.2" stroke="#1a1a1a" stroke-width="1.3"/>
<line x1="355.5" y1="12.5" x2="355.5" y2="150.2" stroke="#1a1a1a" stroke-width="1.3"/>
<line x1="463.9" y1="12.5" x2="463.9" y2="150.2" stroke="#1a1a1a" stroke-width="1.3"/>
<line x1="572.3" y1="12.5" x2="572.3" y2="150.2" stroke="#1a1a1a" stroke-width="1.3"/>
<path d="M66.43,150.2V143.7M102.57,150.2V143.7M174.83,150.2V143.7M210.97,150.2V143.7M283.23,150.2V143.7M319.37,150.2V143.7M391.63,150.2V143.7M427.77,150.2V143.7M500.03,150.2V143.7M536.17,150.2V143.7M608.43,150.2V143.7M644.57,150.2V143.7" stroke="#1a1a1a" stroke-width="1.1"/>
<line x1="247.1" y1="80.8" x2="247.1" y2="123.7" stroke="#ff5555" stroke-width="3.4"/>
<path d="M247.1,74.5 L251.4,83 L247.1,80.8 L242.8,83 Z" fill="#ff5555"/>
<path d="M247.1,130 L251.4,121.5 L247.1,123.7 L242.8,121.5 Z" fill="#ff5555"/>
<line x1="355.5" y1="52.3" x2="355.5" y2="115.7" stroke="#ff5555" stroke-width="3.4"/>
<path d="M355.5,46 L359.8,54.5 L355.5,52.3 L351.2,54.5 Z" fill="#ff5555"/>
<path d="M355.5,122 L359.8,113.5 L355.5,115.7 L351.2,113.5 Z" fill="#ff5555"/>
<line x1="463.9" y1="34.7" x2="463.9" y2="111.7" stroke="#ff5555" stroke-width="3.4"/>
<path d="M463.9,28.4 L468.2,36.9 L463.9,34.7 L459.6,36.9 Z" fill="#ff5555"/>
<path d="M463.9,118 L468.2,109.5 L463.9,111.7 L459.6,109.5 Z" fill="#ff5555"/>
<line x1="572.3" y1="34.5" x2="572.3" y2="99.1" stroke="#ff5555" stroke-width="3.4"/>
<path d="M572.3,28.2 L576.6,36.7 L572.3,34.5 L568,36.7 Z" fill="#ff5555"/>
<path d="M572.3,105.4 L576.6,96.9 L572.3,99.1 L568,96.9 Z" fill="#ff5555"/>
<line x1="680.7" y1="36.5" x2="680.7" y2="73.3" stroke="#ff5555" stroke-width="3.4"/>
<path d="M680.7,30.2 L685,38.7 L680.7,36.5 L676.4,38.7 Z" fill="#ff5555"/>
<path d="M680.7,79.6 L685,71.1 L680.7,73.3 L676.4,71.1 Z" fill="#ff5555"/>
<text x="30.3" y="165" font-size="12" text-anchor="middle" fill="#000" >150</text>
<text x="66.43" y="165" font-size="12" text-anchor="middle" fill="#000" >100</text>
<text x="102.57" y="165" font-size="12" text-anchor="middle" fill="#000" >50</text>
<text x="137.5" y="165.5" font-size="12" text-anchor="middle"><tspan font-style="italic">E</tspan><tspan font-size="8.5" dy="3">F</tspan></text>
<text x="174.83" y="165" font-size="12" text-anchor="middle" fill="#000" >100</text>
<text x="210.97" y="165" font-size="12" text-anchor="middle" fill="#000" >50</text>
<text x="245.9" y="165.5" font-size="12" text-anchor="middle"><tspan font-style="italic">E</tspan><tspan font-size="8.5" dy="3">F</tspan></text>
<text x="283.23" y="165" font-size="12" text-anchor="middle" fill="#000" >100</text>
<text x="319.37" y="165" font-size="12" text-anchor="middle" fill="#000" >50</text>
<text x="354.3" y="165.5" font-size="12" text-anchor="middle"><tspan font-style="italic">E</tspan><tspan font-size="8.5" dy="3">F</tspan></text>
<text x="391.63" y="165" font-size="12" text-anchor="middle" fill="#000" >100</text>
<text x="427.77" y="165" font-size="12" text-anchor="middle" fill="#000" >50</text>
<text x="462.7" y="165.5" font-size="12" text-anchor="middle"><tspan font-style="italic">E</tspan><tspan font-size="8.5" dy="3">F</tspan></text>
<text x="500.03" y="165" font-size="12" text-anchor="middle" fill="#000" >100</text>
<text x="536.17" y="165" font-size="12" text-anchor="middle" fill="#000" >50</text>
<text x="571.1" y="165.5" font-size="12" text-anchor="middle"><tspan font-style="italic">E</tspan><tspan font-size="8.5" dy="3">F</tspan></text>
<text x="608.43" y="165" font-size="12" text-anchor="middle" fill="#000" >100</text>
<text x="644.57" y="165" font-size="12" text-anchor="middle" fill="#000" >50</text>
<text x="679.5" y="165.5" font-size="12" text-anchor="middle"><tspan font-style="italic">E</tspan><tspan font-size="8.5" dy="3">F</tspan></text>
<text x="361.6" y="183.8" font-size="13.3" text-anchor="middle" fill="#000" >Binding energy (meV)</text>
<text x="70.1" y="30" font-size="11.5" text-anchor="middle" fill="#000" >Non-SC</text>
<text x="70.1" y="43.6" font-size="11.5" text-anchor="middle"><tspan font-style="italic">n</tspan> ≈ 0.06</text>
<text x="74.7" y="66.8" font-size="11.5" text-anchor="middle" fill="#000" >Nodal</text>
<text x="74.6" y="80.7" font-size="11.5" text-anchor="middle" fill="#000" >(π/2,π/2)</text>
<text x="68" y="131.4" font-size="11.5" text-anchor="middle" fill="#000" >Hot spot</text>
<text x="189.6" y="30" font-size="11.5" text-anchor="middle" fill="#000" >UD17</text>
<text x="189.6" y="43.6" font-size="11.5" text-anchor="middle"><tspan font-style="italic">n</tspan> ≈ 0.11</text>
<text x="298.3" y="30" font-size="11.5" text-anchor="middle" fill="#000" >UD21</text>
<text x="298.3" y="43.6" font-size="11.5" text-anchor="middle"><tspan font-style="italic">n</tspan> ≈ 0.135</text>
<text x="409.6" y="129.2" font-size="11.5" text-anchor="middle" fill="#000" >OP25</text>
<text x="409.6" y="142.8" font-size="11.5" text-anchor="middle"><tspan font-style="italic">n</tspan> ≈ 0.15</text>
<text x="518" y="129.2" font-size="11.5" text-anchor="middle" fill="#000" >OD18</text>
<text x="518" y="142.8" font-size="11.5" text-anchor="middle"><tspan font-style="italic">n</tspan> ≈ 0.175</text>
<text x="626" y="129.2" font-size="11.5" text-anchor="middle" fill="#000" >OD11</text>
<text x="626" y="142.8" font-size="11.5" text-anchor="middle"><tspan font-style="italic">n</tspan> ≈ 0.22</text>
<text x="251.2" y="116.8" font-size="13" fill="#ff0000">Z<tspan font-size="8.3" dy="2.6">hole_phn</tspan></text>
<text transform="translate(14.8,81.1) rotate(-90)" font-size="13.4" text-anchor="middle">Intensity / F. D. (arb. u.)</text>
<text x="0.3" y="10" font-size="18" font-weight="bold">a</text>
</g>
<g id="pb">
<g fill="#b0b0b0"><circle cx="31.5" cy="282.62" r="2.6"/><circle cx="35.1" cy="279.94" r="2.6"/><circle cx="38.7" cy="280.1" r="2.6"/><circle cx="42.3" cy="277.82" r="2.6"/><circle cx="45.9" cy="274.4" r="2.6"/><circle cx="49.5" cy="271.46" r="2.6"/><circle cx="53.1" cy="269.01" r="2.6"/><circle cx="56.7" cy="266.8" r="2.6"/><circle cx="60.3" cy="260.56" r="2.6"/><circle cx="63.9" cy="252.14" r="2.6"/><circle cx="67.5" cy="249.29" r="2.6"/><circle cx="71.1" cy="246.71" r="2.6"/><circle cx="74.7" cy="245.98" r="2.6"/><circle cx="78.3" cy="247.88" r="2.6"/><circle cx="81.9" cy="250.25" r="2.6"/><circle cx="85.5" cy="257.07" r="2.6"/><circle cx="89.1" cy="264.3" r="2.6"/><circle cx="92.7" cy="273.22" r="2.6"/><circle cx="96.3" cy="283.01" r="2.6"/><circle cx="99.9" cy="293.72" r="2.6"/><circle cx="103.5" cy="303.5" r="2.6"/><circle cx="107.1" cy="309.35" r="2.6"/><circle cx="110.7" cy="315.34" r="2.6"/><circle cx="114.3" cy="323.2" r="2.6"/><circle cx="117.9" cy="330.24" r="2.6"/><circle cx="121.5" cy="332.42" r="2.6"/><circle cx="124.2" cy="274.89" r="2.6"/><circle cx="126.3" cy="273.19" r="2.6"/><circle cx="128.4" cy="272.09" r="2.6"/><circle cx="130.5" cy="274.54" r="2.6"/><circle cx="132.6" cy="273.7" r="2.6"/><circle cx="134.7" cy="273.88" r="2.6"/><circle cx="136.8" cy="273.21" r="2.6"/><circle cx="138.9" cy="272.96" r="2.6"/><circle cx="141" cy="274.53" r="2.6"/><circle cx="143.1" cy="270.7" r="2.6"/><circle cx="145.2" cy="269.92" r="2.6"/><circle cx="147.3" cy="267.84" r="2.6"/><circle cx="149.4" cy="268.14" r="2.6"/><circle cx="151.5" cy="265.61" r="2.6"/><circle cx="153.6" cy="263.01" r="2.6"/><circle cx="155.7" cy="262.23" r="2.6"/><circle cx="157.8" cy="261.21" r="2.6"/><circle cx="159.9" cy="257.16" r="2.6"/><circle cx="162" cy="255.54" r="2.6"/><circle cx="164.1" cy="254.92" r="2.6"/><circle cx="166.2" cy="253.19" r="2.6"/><circle cx="168.3" cy="251.09" r="2.6"/><circle cx="170.4" cy="251.12" r="2.6"/><circle cx="172.5" cy="251.45" r="2.6"/><circle cx="174.6" cy="252.26" r="2.6"/><circle cx="176.7" cy="250.32" r="2.6"/><circle cx="178.8" cy="250.84" r="2.6"/><circle cx="180.9" cy="249.88" r="2.6"/><circle cx="183" cy="250.68" r="2.6"/><circle cx="185.1" cy="247.09" r="2.6"/><circle cx="187.2" cy="249.63" r="2.6"/><circle cx="189.3" cy="250.9" r="2.6"/><circle cx="191.4" cy="254.13" r="2.6"/><circle cx="193.5" cy="253.98" r="2.6"/><circle cx="195.6" cy="257.29" r="2.6"/><circle cx="197.7" cy="261.26" r="2.6"/><circle cx="199.8" cy="265.1" r="2.6"/><circle cx="201.9" cy="268.74" r="2.6"/><circle cx="204" cy="271.16" r="2.6"/><circle cx="206.1" cy="277.73" r="2.6"/><circle cx="208.2" cy="279.64" r="2.6"/><circle cx="210.3" cy="284.73" r="2.6"/><circle cx="212.4" cy="289.37" r="2.6"/><circle cx="214.5" cy="292.34" r="2.6"/><circle cx="216.9" cy="279.67" r="2.6"/><circle cx="219" cy="281.19" r="2.6"/><circle cx="221.1" cy="278.89" r="2.6"/><circle cx="223.2" cy="278.04" r="2.6"/><circle cx="225.3" cy="278.3" r="2.6"/><circle cx="227.4" cy="278.46" r="2.6"/><circle cx="229.5" cy="278.81" r="2.6"/><circle cx="231.6" cy="280.06" r="2.6"/><circle cx="233.7" cy="276.49" r="2.6"/><circle cx="235.8" cy="277.28" r="2.6"/><circle cx="237.9" cy="277.71" r="2.6"/><circle cx="240" cy="276.71" r="2.6"/><circle cx="242.1" cy="275.35" r="2.6"/><circle cx="244.2" cy="275.94" r="2.6"/><circle cx="246.3" cy="275.33" r="2.6"/><circle cx="248.4" cy="274.71" r="2.6"/><circle cx="250.5" cy="272.94" r="2.6"/><circle cx="252.6" cy="272.74" r="2.6"/><circle cx="254.7" cy="270.01" r="2.6"/><circle cx="256.8" cy="268.49" r="2.6"/><circle cx="258.9" cy="264.93" r="2.6"/><circle cx="261" cy="261.62" r="2.6"/><circle cx="263.1" cy="262.24" r="2.6"/><circle cx="265.2" cy="259.84" r="2.6"/><circle cx="267.3" cy="258.08" r="2.6"/><circle cx="269.4" cy="255.56" r="2.6"/><circle cx="271.5" cy="252.82" r="2.6"/><circle cx="273.6" cy="250.66" r="2.6"/><circle cx="275.7" cy="249.69" r="2.6"/><circle cx="277.8" cy="246.55" r="2.6"/><circle cx="279.9" cy="246.71" r="2.6"/><circle cx="282" cy="247.1" r="2.6"/><circle cx="284.1" cy="247.94" r="2.6"/><circle cx="286.2" cy="250.37" r="2.6"/><circle cx="288.3" cy="248.81" r="2.6"/><circle cx="290.4" cy="251.91" r="2.6"/><circle cx="292.5" cy="251.11" r="2.6"/><circle cx="294.6" cy="252.51" r="2.6"/><circle cx="296.7" cy="254.41" r="2.6"/><circle cx="298.8" cy="258.73" r="2.6"/><circle cx="300.9" cy="262.93" r="2.6"/><circle cx="303" cy="264.79" r="2.6"/><circle cx="305.1" cy="269.6" r="2.6"/><circle cx="307.2" cy="273.48" r="2.6"/><circle cx="309.6" cy="283.36" r="2.6"/><circle cx="311.7" cy="283.05" r="2.6"/><circle cx="313.8" cy="283.82" r="2.6"/><circle cx="315.9" cy="284.55" r="2.6"/><circle cx="318" cy="282.8" r="2.6"/><circle cx="320.1" cy="282.32" r="2.6"/><circle cx="322.2" cy="280.5" r="2.6"/><circle cx="324.3" cy="281.7" r="2.6"/><circle cx="326.4" cy="279.86" r="2.6"/><circle cx="328.5" cy="278.53" r="2.6"/><circle cx="330.6" cy="278.66" r="2.6"/><circle cx="332.7" cy="277.2" r="2.6"/><circle cx="334.8" cy="275.74" r="2.6"/><circle cx="336.9" cy="275.92" r="2.6"/><circle cx="339" cy="275.39" r="2.6"/><circle cx="341.1" cy="277.9" r="2.6"/><circle cx="343.2" cy="273.58" r="2.6"/><circle cx="345.3" cy="271.14" r="2.6"/><circle cx="347.4" cy="272.84" r="2.6"/><circle cx="349.5" cy="269.95" r="2.6"/><circle cx="351.6" cy="268.64" r="2.6"/><circle cx="353.7" cy="269.39" r="2.6"/><circle cx="355.8" cy="265.97" r="2.6"/><circle cx="357.9" cy="264.04" r="2.6"/><circle cx="360" cy="263.59" r="2.6"/><circle cx="362.1" cy="261.12" r="2.6"/><circle cx="364.2" cy="261.43" r="2.6"/><circle cx="366.3" cy="259.02" r="2.6"/><circle cx="368.4" cy="258.66" r="2.6"/><circle cx="370.5" cy="258.83" r="2.6"/><circle cx="372.6" cy="257.96" r="2.6"/><circle cx="374.7" cy="253.3" r="2.6"/><circle cx="376.8" cy="253.53" r="2.6"/><circle cx="378.9" cy="252.43" r="2.6"/><circle cx="381" cy="252.33" r="2.6"/><circle cx="383.1" cy="250.22" r="2.6"/><circle cx="385.2" cy="248.79" r="2.6"/><circle cx="387.3" cy="249.82" r="2.6"/><circle cx="389.4" cy="249.22" r="2.6"/><circle cx="391.5" cy="248.55" r="2.6"/><circle cx="393.6" cy="247.51" r="2.6"/><circle cx="395.7" cy="250.48" r="2.6"/><circle cx="397.8" cy="251.52" r="2.6"/><circle cx="399.9" cy="256.81" r="2.6"/><circle cx="402.3" cy="278.09" r="2.6"/><circle cx="404.4" cy="278.89" r="2.6"/><circle cx="406.5" cy="279.54" r="2.6"/><circle cx="408.6" cy="278.62" r="2.6"/><circle cx="410.7" cy="281" r="2.6"/><circle cx="412.8" cy="279.16" r="2.6"/><circle cx="414.9" cy="280.65" r="2.6"/><circle cx="417" cy="280.97" r="2.6"/><circle cx="419.1" cy="278.78" r="2.6"/><circle cx="421.2" cy="279.3" r="2.6"/><circle cx="423.3" cy="277.23" r="2.6"/><circle cx="425.4" cy="275.3" r="2.6"/><circle cx="427.5" cy="274.82" r="2.6"/><circle cx="429.6" cy="275.49" r="2.6"/><circle cx="431.7" cy="275.25" r="2.6"/><circle cx="433.8" cy="274.25" r="2.6"/><circle cx="435.9" cy="273.45" r="2.6"/><circle cx="438" cy="271.63" r="2.6"/><circle cx="440.1" cy="270.72" r="2.6"/><circle cx="442.2" cy="268.13" r="2.6"/><circle cx="444.3" cy="265.53" r="2.6"/><circle cx="446.4" cy="263.85" r="2.6"/><circle cx="448.5" cy="262.54" r="2.6"/><circle cx="450.6" cy="261.68" r="2.6"/><circle cx="452.7" cy="261.61" r="2.6"/><circle cx="454.8" cy="259.71" r="2.6"/><circle cx="456.9" cy="258.9" r="2.6"/><circle cx="459" cy="258.74" r="2.6"/><circle cx="461.1" cy="258.17" r="2.6"/><circle cx="463.2" cy="258.03" r="2.6"/><circle cx="465.3" cy="258.67" r="2.6"/><circle cx="467.4" cy="258.72" r="2.6"/><circle cx="469.5" cy="256.74" r="2.6"/><circle cx="471.6" cy="256.76" r="2.6"/><circle cx="473.7" cy="257.37" r="2.6"/><circle cx="475.8" cy="259.7" r="2.6"/><circle cx="477.9" cy="259.96" r="2.6"/><circle cx="480" cy="262.24" r="2.6"/><circle cx="482.1" cy="262.59" r="2.6"/><circle cx="484.2" cy="257.03" r="2.6"/><circle cx="486.3" cy="253.19" r="2.6"/><circle cx="488.4" cy="248.48" r="2.6"/><circle cx="490.5" cy="244.19" r="2.6"/><circle cx="492.6" cy="246.27" r="2.6"/><circle cx="495" cy="275.61" r="2.6"/><circle cx="497.1" cy="277.23" r="2.6"/><circle cx="499.2" cy="276.67" r="2.6"/><circle cx="501.3" cy="279.71" r="2.6"/><circle cx="503.4" cy="279.61" r="2.6"/><circle cx="505.5" cy="279.15" r="2.6"/><circle cx="507.6" cy="281.67" r="2.6"/><circle cx="509.7" cy="281.83" r="2.6"/><circle cx="511.8" cy="280.75" r="2.6"/><circle cx="513.9" cy="278.97" r="2.6"/><circle cx="516" cy="278.12" r="2.6"/><circle cx="518.1" cy="274.77" r="2.6"/><circle cx="520.2" cy="273.33" r="2.6"/><circle cx="522.3" cy="274.88" r="2.6"/><circle cx="524.4" cy="273.58" r="2.6"/><circle cx="526.5" cy="273.59" r="2.6"/><circle cx="528.6" cy="271.93" r="2.6"/><circle cx="530.7" cy="272.21" r="2.6"/><circle cx="532.8" cy="269.02" r="2.6"/><circle cx="534.9" cy="269.77" r="2.6"/><circle cx="537" cy="268.47" r="2.6"/><circle cx="539.1" cy="266.63" r="2.6"/><circle cx="541.2" cy="264.18" r="2.6"/><circle cx="543.3" cy="259.88" r="2.6"/><circle cx="545.4" cy="257.58" r="2.6"/><circle cx="547.5" cy="257.18" r="2.6"/><circle cx="549.6" cy="256.28" r="2.6"/><circle cx="551.7" cy="255.94" r="2.6"/><circle cx="553.8" cy="254.11" r="2.6"/><circle cx="555.9" cy="257.13" r="2.6"/><circle cx="558" cy="256.16" r="2.6"/><circle cx="560.1" cy="256.79" r="2.6"/><circle cx="562.2" cy="255.01" r="2.6"/><circle cx="564.3" cy="256.97" r="2.6"/><circle cx="566.4" cy="254.3" r="2.6"/><circle cx="568.5" cy="255.66" r="2.6"/><circle cx="570.6" cy="253.6" r="2.6"/><circle cx="572.7" cy="252.06" r="2.6"/><circle cx="574.8" cy="249.6" r="2.6"/><circle cx="576.9" cy="249.89" r="2.6"/><circle cx="579" cy="249.09" r="2.6"/><circle cx="581.1" cy="248.08" r="2.6"/><circle cx="583.2" cy="250.83" r="2.6"/><circle cx="585.3" cy="251.75" r="2.6"/><circle cx="587.7" cy="275.27" r="2.6"/><circle cx="589.8" cy="274.97" r="2.6"/><circle cx="591.9" cy="277.12" r="2.6"/><circle cx="594" cy="274.45" r="2.6"/><circle cx="596.1" cy="274.8" r="2.6"/><circle cx="598.2" cy="275.12" r="2.6"/><circle cx="600.3" cy="274.09" r="2.6"/><circle cx="602.4" cy="275.12" r="2.6"/><circle cx="604.5" cy="274.33" r="2.6"/><circle cx="606.6" cy="273.53" r="2.6"/><circle cx="608.7" cy="273.96" r="2.6"/><circle cx="610.8" cy="272.94" r="2.6"/><circle cx="612.9" cy="272.12" r="2.6"/><circle cx="615" cy="271.16" r="2.6"/><circle cx="617.1" cy="270.38" r="2.6"/><circle cx="619.2" cy="270.39" r="2.6"/><circle cx="621.3" cy="269.67" r="2.6"/><circle cx="623.4" cy="267.64" r="2.6"/><circle cx="625.5" cy="265.7" r="2.6"/><circle cx="627.6" cy="264.16" r="2.6"/><circle cx="629.7" cy="262.64" r="2.6"/><circle cx="631.8" cy="261.4" r="2.6"/><circle cx="633.9" cy="259.18" r="2.6"/><circle cx="636" cy="258.97" r="2.6"/><circle cx="638.1" cy="259.36" r="2.6"/><circle cx="640.2" cy="258.18" r="2.6"/><circle cx="642.3" cy="256.1" r="2.6"/><circle cx="644.4" cy="255.15" r="2.6"/><circle cx="646.5" cy="252.79" r="2.6"/><circle cx="648.6" cy="251.99" r="2.6"/><circle cx="650.7" cy="251.19" r="2.6"/><circle cx="652.8" cy="254.16" r="2.6"/><circle cx="654.9" cy="252.77" r="2.6"/><circle cx="657" cy="253.09" r="2.6"/><circle cx="659.1" cy="254.68" r="2.6"/><circle cx="661.2" cy="252.54" r="2.6"/><circle cx="663.3" cy="249.78" r="2.6"/><circle cx="665.4" cy="246.29" r="2.6"/><circle cx="667.5" cy="242.44" r="2.6"/><circle cx="669.6" cy="237.01" r="2.6"/><circle cx="671.7" cy="233.95" r="2.6"/><circle cx="673.8" cy="230.6" r="2.6"/><circle cx="675.9" cy="233.93" r="2.6"/><circle cx="678" cy="237.38" r="2.6"/></g>
<path d="M30.5,286.4L31,286.41L31.5,286.44L32,286.48L32.5,286.54L33,286.61L33.5,286.69L34,286.79L34.5,286.9L35,287.03L35.5,287.17L36,287.33L36.5,287.5L37,287.68L37.5,287.88L38,288.08L38.5,288.31L39,288.54L39.5,288.79L40,289.05L40.5,289.32L41,289.61L41.5,289.91L42,290.22L42.5,290.54L43,290.87L43.5,291.21L44,291.56L44.5,291.93L45,292.3L45.5,292.69L46,293.08L46.5,293.48L47,293.89L47.5,294.31L48,294.74L48.5,295.18L49,295.63L49.5,296.08L50,296.54L50.5,297L51,297.48L51.5,297.96L52,298.44L52.5,298.93L53,299.43L53.5,299.93L54,300.43L54.5,300.94L55,301.46L55.5,301.98L56,302.5L56.5,303.02L57,303.55L57.5,304.07L58,304.6L58.5,305.14L59,305.67L59.5,306.2L60,306.74L60.5,307.27L61,307.81L61.5,308.35L62,308.88L62.5,309.42L63,309.95L63.5,310.48L64,311.01L64.5,311.54L65,312.07L65.5,312.6L66,313.12L66.5,313.64L67,314.16L67.5,314.67L68,315.18L68.5,315.69L69,316.19L69.5,316.69L70,317.19L70.5,317.68L71,318.16L71.5,318.64L72,319.12L72.5,319.59L73,320.06L73.5,320.52L74,320.98L74.5,321.43L75,321.88L75.5,322.31L76,322.75L76.5,323.18L77,323.6L77.5,324.01L78,324.42L78.5,324.83L79,325.23L79.5,325.62L80,326L80.5,326.38L81,326.75L81.5,327.12L82,327.48L82.5,327.83L83,328.18L83.5,328.52L84,328.85L84.5,329.18L85,329.5L85.5,329.81L86,330.12L86.5,330.42L87,330.72L87.5,331.01L88,331.29L88.5,331.57L89,331.84L89.5,332.1L90,332.36L90.5,332.61L91,332.86L91.5,333.1L92,333.33L92.5,333.56L93,333.78L93.5,334L94,334.21L94.5,334.41L95,334.61L95.5,334.81L96,335L96.5,335.18L97,335.36L97.5,335.54L98,335.71L98.5,335.87L99,336.03L99.5,336.19L100,336.34L100.5,336.48L101,336.63L101.5,336.76L102,336.9L102.5,337.03L103,337.15L103.5,337.27L104,337.39L104.5,337.5L105,337.61L105.5,337.72L106,337.82L106.5,337.92L107,338.02L107.5,338.11L108,338.2L108.5,338.28L109,338.37L109.5,338.45L110,338.52L110.5,338.6L111,338.67L111.5,338.74L112,338.81L112.5,338.87L113,338.93L113.5,338.99L114,339.05L114.5,339.11L115,339.16L115.5,339.21L116,339.26L116.5,339.31L117,339.35L117.5,339.39L118,339.44L118.5,339.48L119,339.51L119.5,339.55L120,339.59L120.5,339.62L121,339.65L121.5,339.68L122,339.71L122.5,339.74L123,339.77L123.2,339.78M123.2,278.1L123.7,278.19L124.2,278.28L124.7,278.39L125.2,278.52L125.7,278.65L126.2,278.8L126.7,278.95L127.2,279.12L127.7,279.3L128.2,279.49L128.7,279.69L129.2,279.91L129.7,280.13L130.2,280.36L130.7,280.61L131.2,280.87L131.7,281.13L132.2,281.41L132.7,281.7L133.2,281.99L133.7,282.3L134.2,282.61L134.7,282.94L135.2,283.27L135.7,283.62L136.2,283.97L136.7,284.33L137.2,284.7L137.7,285.08L138.2,285.46L138.7,285.86L139.2,286.26L139.7,286.67L140.2,287.08L140.7,287.5L141.2,287.93L141.7,288.37L142.2,288.81L142.7,289.26L143.2,289.72L143.7,290.18L144.2,290.64L144.7,291.11L145.2,291.59L145.7,292.07L146.2,292.55L146.7,293.04L147.2,293.54L147.7,294.03L148.2,294.54L148.7,295.04L149.2,295.55L149.7,296.06L150.2,296.57L150.7,297.08L151.2,297.6L151.7,298.12L152.2,298.64L152.7,299.17L153.2,299.69L153.7,300.21L154.2,300.74L154.7,301.27L155.2,301.79L155.7,302.32L156.2,302.85L156.7,303.38L157.2,303.9L157.7,304.43L158.2,304.96L158.7,305.48L159.2,306L159.7,306.53L160.2,307.05L160.7,307.56L161.2,308.08L161.7,308.6L162.2,309.11L162.7,309.62L163.2,310.13L163.7,310.63L164.2,311.14L164.7,311.64L165.2,312.13L165.7,312.63L166.2,313.11L166.7,313.6L167.2,314.08L167.7,314.56L168.2,315.04L168.7,315.51L169.2,315.98L169.7,316.44L170.2,316.9L170.7,317.35L171.2,317.8L171.7,318.25L172.2,318.69L172.7,319.12L173.2,319.56L173.7,319.98L174.2,320.4L174.7,320.82L175.2,321.23L175.7,321.64L176.2,322.04L176.7,322.43L177.2,322.83L177.7,323.21L178.2,323.59L178.7,323.97L179.2,324.34L179.7,324.7L180.2,325.06L180.7,325.41L181.2,325.76L181.7,326.1L182.2,326.44L182.7,326.77L183.2,327.1L183.7,327.42L184.2,327.74L184.7,328.05L185.2,328.35L185.7,328.65L186.2,328.95L186.7,329.24L187.2,329.52L187.7,329.8L188.2,330.07L188.7,330.34L189.2,330.6L189.7,330.86L190.2,331.11L190.7,331.36L191.2,331.61L191.7,331.84L192.2,332.08L192.7,332.3L193.2,332.53L193.7,332.75L194.2,332.96L194.7,333.17L195.2,333.37L195.7,333.57L196.2,333.77L196.7,333.96L197.2,334.15L197.7,334.33L198.2,334.51L198.7,334.68L199.2,334.85L199.7,335.02L200.2,335.18L200.7,335.33L201.2,335.49L201.7,335.64L202.2,335.78L202.7,335.93L203.2,336.06L203.7,336.2L204.2,336.33L204.7,336.46L205.2,336.58L205.7,336.7L206.2,336.82L206.7,336.94L207.2,337.05L207.7,337.16L208.2,337.26L208.7,337.37L209.2,337.47L209.7,337.56L210.2,337.66L210.7,337.75L211.2,337.84L211.7,337.92L212.2,338L212.7,338.09L213.2,338.16L213.7,338.24L214.2,338.31L214.7,338.39L215.2,338.45L215.7,338.52L215.9,338.55M215.9,284.26L216.4,284.22L216.9,284.19L217.4,284.17L217.9,284.17L218.4,284.19L218.9,284.22L219.4,284.27L219.9,284.34L220.4,284.42L220.9,284.51L221.4,284.63L221.9,284.76L222.4,284.9L222.9,285.06L223.4,285.23L223.9,285.42L224.4,285.63L224.9,285.85L225.4,286.08L225.9,286.33L226.4,286.59L226.9,286.87L227.4,287.16L227.9,287.47L228.4,287.78L228.9,288.12L229.4,288.46L229.9,288.81L230.4,289.18L230.9,289.56L231.4,289.95L231.9,290.36L232.4,290.77L232.9,291.2L233.4,291.63L233.9,292.08L234.4,292.53L234.9,292.99L235.4,293.47L235.9,293.95L236.4,294.44L236.9,294.93L237.4,295.44L237.9,295.95L238.4,296.47L238.9,296.99L239.4,297.52L239.9,298.06L240.4,298.6L240.9,299.15L241.4,299.7L241.9,300.25L242.4,300.81L242.9,301.37L243.4,301.94L243.9,302.51L244.4,303.08L244.9,303.65L245.4,304.22L245.9,304.8L246.4,305.37L246.9,305.95L247.4,306.52L247.9,307.1L248.4,307.68L248.9,308.25L249.4,308.82L249.9,309.4L250.4,309.97L250.9,310.53L251.4,311.1L251.9,311.66L252.4,312.23L252.9,312.78L253.4,313.34L253.9,313.89L254.4,314.43L254.9,314.98L255.4,315.52L255.9,316.05L256.4,316.58L256.9,317.1L257.4,317.62L257.9,318.14L258.4,318.64L258.9,319.15L259.4,319.64L259.9,320.14L260.4,320.62L260.9,321.1L261.4,321.57L261.9,322.04L262.4,322.5L262.9,322.95L263.4,323.4L263.9,323.84L264.4,324.27L264.9,324.7L265.4,325.12L265.9,325.53L266.4,325.93L266.9,326.33L267.4,326.72L267.9,327.11L268.4,327.48L268.9,327.85L269.4,328.21L269.9,328.57L270.4,328.92L270.9,329.26L271.4,329.59L271.9,329.92L272.4,330.23L272.9,330.55L273.4,330.85L273.9,331.15L274.4,331.44L274.9,331.73L275.4,332L275.9,332.28L276.4,332.54L276.9,332.8L277.4,333.05L277.9,333.29L278.4,333.53L278.9,333.77L279.4,333.99L279.9,334.21L280.4,334.43L280.9,334.63L281.4,334.84L281.9,335.03L282.4,335.22L282.9,335.41L283.4,335.59L283.9,335.77L284.4,335.93L284.9,336.1L285.4,336.26L285.9,336.41L286.4,336.56L286.9,336.71L287.4,336.85L287.9,336.98L288.4,337.11L288.9,337.24L289.4,337.36L289.9,337.48L290.4,337.6L290.9,337.71L291.4,337.82L291.9,337.92L292.4,338.02L292.9,338.11L293.4,338.21L293.9,338.3L294.4,338.38L294.9,338.46L295.4,338.54L295.9,338.62L296.4,338.69L296.9,338.77L297.4,338.83L297.9,338.9L298.4,338.96L298.9,339.02L299.4,339.08L299.9,339.14L300.4,339.19L300.9,339.24L301.4,339.29L301.9,339.34L302.4,339.38L302.9,339.43L303.4,339.47L303.9,339.51L304.4,339.55L304.9,339.58L305.4,339.62L305.9,339.65L306.4,339.69L306.9,339.72L307.4,339.74L307.9,339.77L308.4,339.8L308.6,339.81M308.6,289.5L309.1,289.6L309.6,289.7L310.1,289.81L310.6,289.94L311.1,290.07L311.6,290.21L312.1,290.36L312.6,290.53L313.1,290.7L313.6,290.87L314.1,291.06L314.6,291.26L315.1,291.46L315.6,291.68L316.1,291.9L316.6,292.13L317.1,292.37L317.6,292.61L318.1,292.87L318.6,293.13L319.1,293.4L319.6,293.68L320.1,293.96L320.6,294.25L321.1,294.55L321.6,294.85L322.1,295.17L322.6,295.49L323.1,295.81L323.6,296.14L324.1,296.48L324.6,296.82L325.1,297.17L325.6,297.52L326.1,297.88L326.6,298.25L327.1,298.61L327.6,298.99L328.1,299.37L328.6,299.75L329.1,300.14L329.6,300.53L330.1,300.92L330.6,301.32L331.1,301.72L331.6,302.13L332.1,302.53L332.6,302.95L333.1,303.36L333.6,303.77L334.1,304.19L334.6,304.61L335.1,305.03L335.6,305.46L336.1,305.88L336.6,306.31L337.1,306.74L337.6,307.17L338.1,307.6L338.6,308.03L339.1,308.46L339.6,308.89L340.1,309.32L340.6,309.75L341.1,310.18L341.6,310.61L342.1,311.04L342.6,311.47L343.1,311.9L343.6,312.33L344.1,312.76L344.6,313.18L345.1,313.61L345.6,314.03L346.1,314.45L346.6,314.87L347.1,315.28L347.6,315.7L348.1,316.11L348.6,316.52L349.1,316.93L349.6,317.33L350.1,317.74L350.6,318.14L351.1,318.53L351.6,318.93L352.1,319.32L352.6,319.71L353.1,320.09L353.6,320.47L354.1,320.85L354.6,321.22L355.1,321.59L355.6,321.96L356.1,322.32L356.6,322.68L357.1,323.04L357.6,323.39L358.1,323.74L358.6,324.08L359.1,324.42L359.6,324.76L360.1,325.09L360.6,325.41L361.1,325.74L361.6,326.06L362.1,326.37L362.6,326.68L363.1,326.99L363.6,327.29L364.1,327.58L364.6,327.88L365.1,328.16L365.6,328.45L366.1,328.73L366.6,329L367.1,329.27L367.6,329.54L368.1,329.8L368.6,330.06L369.1,330.31L369.6,330.56L370.1,330.8L370.6,331.04L371.1,331.28L371.6,331.51L372.1,331.74L372.6,331.96L373.1,332.18L373.6,332.39L374.1,332.6L374.6,332.81L375.1,333.01L375.6,333.21L376.1,333.4L376.6,333.59L377.1,333.78L377.6,333.96L378.1,334.14L378.6,334.31L379.1,334.48L379.6,334.65L380.1,334.81L380.6,334.97L381.1,335.13L381.6,335.28L382.1,335.43L382.6,335.57L383.1,335.71L383.6,335.85L384.1,335.99L384.6,336.12L385.1,336.25L385.6,336.37L386.1,336.49L386.6,336.61L387.1,336.73L387.6,336.84L388.1,336.95L388.6,337.06L389.1,337.16L389.6,337.26L390.1,337.36L390.6,337.46L391.1,337.55L391.6,337.64L392.1,337.73L392.6,337.82L393.1,337.9L393.6,337.98L394.1,338.06L394.6,338.14L395.1,338.21L395.6,338.29L396.1,338.36L396.6,338.42L397.1,338.49L397.6,338.55L398.1,338.62L398.6,338.68L399.1,338.73L399.6,338.79L400.1,338.85L400.6,338.9L401.1,338.95L401.3,338.97M401.3,285.31L401.8,285.46L402.3,285.63L402.8,285.81L403.3,286L403.8,286.2L404.3,286.41L404.8,286.62L405.3,286.85L405.8,287.09L406.3,287.34L406.8,287.6L407.3,287.86L407.8,288.14L408.3,288.42L408.8,288.72L409.3,289.02L409.8,289.33L410.3,289.65L410.8,289.98L411.3,290.31L411.8,290.66L412.3,291.01L412.8,291.37L413.3,291.73L413.8,292.1L414.3,292.48L414.8,292.87L415.3,293.26L415.8,293.66L416.3,294.06L416.8,294.47L417.3,294.89L417.8,295.31L418.3,295.73L418.8,296.16L419.3,296.6L419.8,297.04L420.3,297.48L420.8,297.93L421.3,298.38L421.8,298.84L422.3,299.3L422.8,299.76L423.3,300.22L423.8,300.69L424.3,301.16L424.8,301.63L425.3,302.1L425.8,302.58L426.3,303.06L426.8,303.54L427.3,304.02L427.8,304.5L428.3,304.98L428.8,305.46L429.3,305.94L429.8,306.42L430.3,306.91L430.8,307.39L431.3,307.87L431.8,308.35L432.3,308.83L432.8,309.31L433.3,309.79L433.8,310.27L434.3,310.74L434.8,311.22L435.3,311.69L435.8,312.16L436.3,312.63L436.8,313.09L437.3,313.55L437.8,314.01L438.3,314.47L438.8,314.93L439.3,315.38L439.8,315.83L440.3,316.27L440.8,316.72L441.3,317.15L441.8,317.59L442.3,318.02L442.8,318.45L443.3,318.87L443.8,319.29L444.3,319.71L444.8,320.12L445.3,320.53L445.8,320.93L446.3,321.33L446.8,321.72L447.3,322.11L447.8,322.5L448.3,322.88L448.8,323.25L449.3,323.62L449.8,323.99L450.3,324.35L450.8,324.71L451.3,325.06L451.8,325.41L452.3,325.75L452.8,326.08L453.3,326.42L453.8,326.74L454.3,327.06L454.8,327.38L455.3,327.69L455.8,328L456.3,328.3L456.8,328.6L457.3,328.89L457.8,329.17L458.3,329.46L458.8,329.73L459.3,330L459.8,330.27L460.3,330.53L460.8,330.79L461.3,331.04L461.8,331.29L462.3,331.53L462.8,331.77L463.3,332L463.8,332.23L464.3,332.45L464.8,332.67L465.3,332.88L465.8,333.09L466.3,333.3L466.8,333.5L467.3,333.69L467.8,333.89L468.3,334.07L468.8,334.26L469.3,334.44L469.8,334.61L470.3,334.78L470.8,334.95L471.3,335.11L471.8,335.27L472.3,335.42L472.8,335.58L473.3,335.72L473.8,335.87L474.3,336.01L474.8,336.14L475.3,336.28L475.8,336.4L476.3,336.53L476.8,336.65L477.3,336.77L477.8,336.89L478.3,337L478.8,337.11L479.3,337.22L479.8,337.32L480.3,337.42L480.8,337.52L481.3,337.62L481.8,337.71L482.3,337.8L482.8,337.89L483.3,337.97L483.8,338.05L484.3,338.13L484.8,338.21L485.3,338.28L485.8,338.36L486.3,338.43L486.8,338.5L487.3,338.56L487.8,338.63L488.3,338.69L488.8,338.75L489.3,338.81L489.8,338.86L490.3,338.92L490.8,338.97L491.3,339.02L491.8,339.07L492.3,339.12L492.8,339.16L493.3,339.21L493.8,339.25L494,339.27M494,284.38L494.5,284.5L495,284.62L495.5,284.76L496,284.91L496.5,285.06L497,285.23L497.5,285.41L498,285.6L498.5,285.81L499,286.02L499.5,286.24L500,286.47L500.5,286.71L501,286.97L501.5,287.23L502,287.5L502.5,287.78L503,288.07L503.5,288.37L504,288.68L504.5,288.99L505,289.32L505.5,289.65L506,289.99L506.5,290.34L507,290.7L507.5,291.07L508,291.44L508.5,291.82L509,292.2L509.5,292.6L510,293L510.5,293.4L511,293.82L511.5,294.23L512,294.66L512.5,295.09L513,295.52L513.5,295.96L514,296.4L514.5,296.85L515,297.31L515.5,297.76L516,298.22L516.5,298.69L517,299.15L517.5,299.62L518,300.1L518.5,300.57L519,301.05L519.5,301.53L520,302.02L520.5,302.5L521,302.99L521.5,303.47L522,303.96L522.5,304.45L523,304.94L523.5,305.43L524,305.92L524.5,306.41L525,306.9L525.5,307.39L526,307.88L526.5,308.37L527,308.86L527.5,309.35L528,309.83L528.5,310.32L529,310.8L529.5,311.28L530,311.76L530.5,312.24L531,312.71L531.5,313.18L532,313.65L532.5,314.12L533,314.58L533.5,315.05L534,315.5L534.5,315.96L535,316.41L535.5,316.86L536,317.3L536.5,317.74L537,318.18L537.5,318.61L538,319.04L538.5,319.46L539,319.88L539.5,320.29L540,320.71L540.5,321.11L541,321.51L541.5,321.91L542,322.3L542.5,322.69L543,323.07L543.5,323.45L544,323.83L544.5,324.19L545,324.56L545.5,324.92L546,325.27L546.5,325.62L547,325.96L547.5,326.3L548,326.63L548.5,326.96L549,327.28L549.5,327.6L550,327.91L550.5,328.22L551,328.52L551.5,328.81L552,329.11L552.5,329.39L553,329.67L553.5,329.95L554,330.22L554.5,330.49L555,330.75L555.5,331L556,331.25L556.5,331.5L557,331.74L557.5,331.98L558,332.21L558.5,332.43L559,332.65L559.5,332.87L560,333.08L560.5,333.29L561,333.49L561.5,333.69L562,333.89L562.5,334.08L563,334.26L563.5,334.44L564,334.62L564.5,334.79L565,334.96L565.5,335.12L566,335.28L566.5,335.44L567,335.59L567.5,335.74L568,335.89L568.5,336.03L569,336.16L569.5,336.3L570,336.43L570.5,336.56L571,336.68L571.5,336.8L572,336.92L572.5,337.03L573,337.14L573.5,337.25L574,337.35L574.5,337.45L575,337.55L575.5,337.65L576,337.74L576.5,337.83L577,337.92L577.5,338L578,338.08L578.5,338.16L579,338.24L579.5,338.31L580,338.39L580.5,338.46L581,338.53L581.5,338.59L582,338.66L582.5,338.72L583,338.78L583.5,338.83L584,338.89L584.5,338.94L585,339L585.5,339.05L586,339.1L586.5,339.14L586.7,339.16M586.7,279.2L587.2,279.19L587.7,279.2L588.2,279.23L588.7,279.28L589.2,279.34L589.7,279.43L590.2,279.53L590.7,279.65L591.2,279.79L591.7,279.95L592.2,280.12L592.7,280.32L593.2,280.53L593.7,280.76L594.2,281L594.7,281.26L595.2,281.54L595.7,281.84L596.2,282.15L596.7,282.48L597.2,282.82L597.7,283.18L598.2,283.55L598.7,283.94L599.2,284.34L599.7,284.76L600.2,285.19L600.7,285.63L601.2,286.09L601.7,286.56L602.2,287.04L602.7,287.53L603.2,288.03L603.7,288.55L604.2,289.07L604.7,289.61L605.2,290.15L605.7,290.71L606.2,291.27L606.7,291.84L607.2,292.42L607.7,293.01L608.2,293.6L608.7,294.2L609.2,294.81L609.7,295.42L610.2,296.04L610.7,296.66L611.2,297.29L611.7,297.92L612.2,298.55L612.7,299.19L613.2,299.83L613.7,300.47L614.2,301.11L614.7,301.76L615.2,302.4L615.7,303.05L616.2,303.7L616.7,304.34L617.2,304.99L617.7,305.63L618.2,306.27L618.7,306.92L619.2,307.55L619.7,308.19L620.2,308.82L620.7,309.45L621.2,310.08L621.7,310.71L622.2,311.32L622.7,311.94L623.2,312.55L623.7,313.15L624.2,313.76L624.7,314.35L625.2,314.94L625.7,315.52L626.2,316.1L626.7,316.67L627.2,317.24L627.7,317.79L628.2,318.35L628.7,318.89L629.2,319.43L629.7,319.96L630.2,320.48L630.7,320.99L631.2,321.5L631.7,322L632.2,322.49L632.7,322.97L633.2,323.45L633.7,323.92L634.2,324.38L634.7,324.83L635.2,325.27L635.7,325.71L636.2,326.13L636.7,326.55L637.2,326.96L637.7,327.36L638.2,327.76L638.7,328.14L639.2,328.52L639.7,328.89L640.2,329.25L640.7,329.6L641.2,329.94L641.7,330.28L642.2,330.61L642.7,330.93L643.2,331.24L643.7,331.55L644.2,331.84L644.7,332.13L645.2,332.41L645.7,332.69L646.2,332.96L646.7,333.22L647.2,333.47L647.7,333.71L648.2,333.95L648.7,334.19L649.2,334.41L649.7,334.63L650.2,334.84L650.7,335.05L651.2,335.25L651.7,335.44L652.2,335.63L652.7,335.81L653.2,335.99L653.7,336.16L654.2,336.32L654.7,336.48L655.2,336.64L655.7,336.78L656.2,336.93L656.7,337.07L657.2,337.2L657.7,337.33L658.2,337.46L658.7,337.58L659.2,337.69L659.7,337.81L660.2,337.91L660.7,338.02L661.2,338.12L661.7,338.21L662.2,338.31L662.7,338.4L663.2,338.48L663.7,338.56L664.2,338.64L664.7,338.72L665.2,338.79L665.7,338.86L666.2,338.93L666.7,338.99L667.2,339.06L667.7,339.11L668.2,339.17L668.7,339.23L669.2,339.28L669.7,339.33L670.2,339.38L670.7,339.42L671.2,339.47L671.7,339.51L672.2,339.55L672.7,339.58L673.2,339.62L673.7,339.66L674.2,339.69L674.7,339.72L675.2,339.75L675.7,339.78L676.2,339.81L676.7,339.83L677.2,339.86L677.7,339.88L678.2,339.9L678.7,339.93L679.2,339.95L679.4,339.95" fill="none" stroke="#2255ee" stroke-width="1.2"/>
<path d="M30.5,337.31L31,337.1L31.5,336.88L32,336.65L32.5,336.41L33,336.15L33.5,335.88L34,335.6L34.5,335.3L35,334.98L35.5,334.65L36,334.31L36.5,333.94L37,333.56L37.5,333.16L38,332.74L38.5,332.3L39,331.85L39.5,331.37L40,330.87L40.5,330.35L41,329.81L41.5,329.25L42,328.67L42.5,328.06L43,327.43L43.5,326.78L44,326.11L44.5,325.41L45,324.69L45.5,323.94L46,323.17L46.5,322.38L47,321.56L47.5,320.72L48,319.85L48.5,318.96L49,318.05L49.5,317.12L50,316.16L50.5,315.18L51,314.18L51.5,313.15L52,312.11L52.5,311.04L53,309.96L53.5,308.86L54,307.73L54.5,306.6L55,305.44L55.5,304.28L56,303.09L56.5,301.9L57,300.69L57.5,299.48L58,298.26L58.5,297.02L59,295.79L59.5,294.55L60,293.31L60.5,292.06L61,290.82L61.5,289.58L62,288.35L62.5,287.12L63,285.9L63.5,284.69L64,283.49L64.5,282.31L65,281.14L65.5,279.99L66,278.86L66.5,277.75L67,276.66L67.5,275.6L68,274.57L68.5,273.57L69,272.6L69.5,271.66L70,270.75L70.5,269.88L71,269.05L71.5,268.26L72,267.52L72.5,266.81L73,266.15L73.5,265.53L74,264.96L74.5,264.43L75,263.96L75.5,263.53L76,263.16L76.5,262.84L77,262.57L77.5,262.35L78,262.18L78.5,262.07L79,262.01L79.5,262L80,262.05L80.5,262.15L81,262.31L81.5,262.52L82,262.78L82.5,263.09L83,263.46L83.5,263.87L84,264.34L84.5,264.85L85,265.41L85.5,266.02L86,266.67L86.5,267.37L87,268.11L87.5,268.89L88,269.72L88.5,270.58L89,271.47L89.5,272.41L90,273.37L90.5,274.37L91,275.39L91.5,276.45L92,277.53L92.5,278.63L93,279.76L93.5,280.91L94,282.07L94.5,283.25L95,284.45L95.5,285.66L96,286.87L96.5,288.1L97,289.33L97.5,290.57L98,291.81L98.5,293.06L99,294.3L99.5,295.54L100,296.78L100.5,298.01L101,299.23L101.5,300.45L102,301.66L102.5,302.86L103,304.04L103.5,305.21L104,306.37L104.5,307.51L105,308.63L105.5,309.74L106,310.83L106.5,311.9L107,312.94L107.5,313.97L108,314.98L108.5,315.96L109,316.93L109.5,317.87L110,318.78L110.5,319.68L111,320.55L111.5,321.39L112,322.22L112.5,323.01L113,323.79L113.5,324.54L114,325.27L114.5,325.97L115,326.65L115.5,327.31L116,327.94L116.5,328.55L117,329.14L117.5,329.7L118,330.25L118.5,330.77L119,331.27L119.5,331.75L120,332.21L120.5,332.65L121,333.08L121.5,333.48L122,333.87L122.5,334.23L123,334.58L123.2,334.72M123.2,336.63L123.7,336.45L124.2,336.25L124.7,336.05L125.2,335.85L125.7,335.63L126.2,335.4L126.7,335.17L127.2,334.93L127.7,334.67L128.2,334.41L128.7,334.14L129.2,333.86L129.7,333.57L130.2,333.26L130.7,332.95L131.2,332.63L131.7,332.29L132.2,331.95L132.7,331.59L133.2,331.22L133.7,330.84L134.2,330.44L134.7,330.04L135.2,329.62L135.7,329.19L136.2,328.74L136.7,328.29L137.2,327.82L137.7,327.33L138.2,326.84L138.7,326.33L139.2,325.8L139.7,325.27L140.2,324.72L140.7,324.15L141.2,323.57L141.7,322.98L142.2,322.37L142.7,321.75L143.2,321.12L143.7,320.47L144.2,319.81L144.7,319.14L145.2,318.45L145.7,317.74L146.2,317.03L146.7,316.3L147.2,315.56L147.7,314.8L148.2,314.04L148.7,313.26L149.2,312.47L149.7,311.66L150.2,310.85L150.7,310.02L151.2,309.18L151.7,308.34L152.2,307.48L152.7,306.61L153.2,305.74L153.7,304.85L154.2,303.96L154.7,303.06L155.2,302.15L155.7,301.24L156.2,300.32L156.7,299.39L157.2,298.46L157.7,297.52L158.2,296.58L158.7,295.64L159.2,294.7L159.7,293.75L160.2,292.81L160.7,291.86L161.2,290.92L161.7,289.97L162.2,289.03L162.7,288.09L163.2,287.16L163.7,286.23L164.2,285.31L164.7,284.39L165.2,283.48L165.7,282.58L166.2,281.68L166.7,280.8L167.2,279.93L167.7,279.07L168.2,278.22L168.7,277.38L169.2,276.56L169.7,275.75L170.2,274.96L170.7,274.19L171.2,273.43L171.7,272.69L172.2,271.97L172.7,271.27L173.2,270.59L173.7,269.93L174.2,269.29L174.7,268.68L175.2,268.09L175.7,267.52L176.2,266.98L176.7,266.46L177.2,265.97L177.7,265.51L178.2,265.07L178.7,264.66L179.2,264.28L179.7,263.92L180.2,263.6L180.7,263.3L181.2,263.04L181.7,262.8L182.2,262.59L182.7,262.42L183.2,262.27L183.7,262.16L184.2,262.08L184.7,262.02L185.2,262L185.7,262.01L186.2,262.05L186.7,262.12L187.2,262.22L187.7,262.36L188.2,262.52L188.7,262.72L189.2,262.94L189.7,263.19L190.2,263.48L190.7,263.79L191.2,264.13L191.7,264.5L192.2,264.9L192.7,265.33L193.2,265.78L193.7,266.26L194.2,266.77L194.7,267.3L195.2,267.86L195.7,268.44L196.2,269.05L196.7,269.67L197.2,270.32L197.7,270.99L198.2,271.69L198.7,272.4L199.2,273.13L199.7,273.88L200.2,274.65L200.7,275.43L201.2,276.23L201.7,277.05L202.2,277.88L202.7,278.72L203.2,279.58L203.7,280.45L204.2,281.33L204.7,282.22L205.2,283.12L205.7,284.02L206.2,284.94L206.7,285.86L207.2,286.79L207.7,287.72L208.2,288.66L208.7,289.6L209.2,290.54L209.7,291.48L210.2,292.43L210.7,293.38L211.2,294.32L211.7,295.27L212.2,296.21L212.7,297.15L213.2,298.09L213.7,299.02L214.2,299.95L214.7,300.87L215.2,301.79L215.7,302.7L215.9,303.06M215.9,337.1L216.4,336.94L216.9,336.78L217.4,336.61L217.9,336.43L218.4,336.25L218.9,336.05L219.4,335.86L219.9,335.65L220.4,335.44L220.9,335.21L221.4,334.98L221.9,334.75L222.4,334.5L222.9,334.24L223.4,333.98L223.9,333.7L224.4,333.42L224.9,333.13L225.4,332.82L225.9,332.51L226.4,332.19L226.9,331.85L227.4,331.51L227.9,331.15L228.4,330.79L228.9,330.41L229.4,330.02L229.9,329.62L230.4,329.21L230.9,328.79L231.4,328.35L231.9,327.91L232.4,327.45L232.9,326.98L233.4,326.5L233.9,326L234.4,325.49L234.9,324.97L235.4,324.44L235.9,323.9L236.4,323.34L236.9,322.77L237.4,322.18L237.9,321.59L238.4,320.98L238.9,320.36L239.4,319.73L239.9,319.08L240.4,318.42L240.9,317.75L241.4,317.07L241.9,316.38L242.4,315.67L242.9,314.95L243.4,314.22L243.9,313.48L244.4,312.73L244.9,311.97L245.4,311.19L245.9,310.41L246.4,309.62L246.9,308.81L247.4,308L247.9,307.18L248.4,306.35L248.9,305.51L249.4,304.66L249.9,303.81L250.4,302.95L250.9,302.08L251.4,301.21L251.9,300.33L252.4,299.45L252.9,298.56L253.4,297.67L253.9,296.77L254.4,295.87L254.9,294.97L255.4,294.07L255.9,293.17L256.4,292.27L256.9,291.36L257.4,290.46L257.9,289.56L258.4,288.67L258.9,287.77L259.4,286.88L259.9,286L260.4,285.12L260.9,284.24L261.4,283.37L261.9,282.51L262.4,281.66L262.9,280.82L263.4,279.98L263.9,279.16L264.4,278.35L264.9,277.55L265.4,276.76L265.9,275.99L266.4,275.23L266.9,274.48L267.4,273.75L267.9,273.04L268.4,272.34L268.9,271.66L269.4,271L269.9,270.36L270.4,269.74L270.9,269.14L271.4,268.56L271.9,268L272.4,267.46L272.9,266.95L273.4,266.45L273.9,265.98L274.4,265.54L274.9,265.12L275.4,264.72L275.9,264.36L276.4,264.01L276.9,263.69L277.4,263.4L277.9,263.14L278.4,262.9L278.9,262.69L279.4,262.51L279.9,262.35L280.4,262.23L280.9,262.13L281.4,262.06L281.9,262.01L282.4,262L282.9,262.01L283.4,262.06L283.9,262.13L284.4,262.23L284.9,262.35L285.4,262.51L285.9,262.69L286.4,262.9L286.9,263.14L287.4,263.4L287.9,263.69L288.4,264.01L288.9,264.36L289.4,264.72L289.9,265.12L290.4,265.54L290.9,265.98L291.4,266.45L291.9,266.95L292.4,267.46L292.9,268L293.4,268.56L293.9,269.14L294.4,269.74L294.9,270.36L295.4,271L295.9,271.66L296.4,272.34L296.9,273.04L297.4,273.75L297.9,274.48L298.4,275.23L298.9,275.99L299.4,276.76L299.9,277.55L300.4,278.35L300.9,279.16L301.4,279.98L301.9,280.82L302.4,281.66L302.9,282.51L303.4,283.37L303.9,284.24L304.4,285.12L304.9,286L305.4,286.88L305.9,287.77L306.4,288.67L306.9,289.56L307.4,290.46L307.9,291.36L308.4,292.27L308.6,292.63M308.6,335.09L309.1,334.89L309.6,334.68L310.1,334.46L310.6,334.24L311.1,334.01L311.6,333.78L312.1,333.54L312.6,333.29L313.1,333.03L313.6,332.77L314.1,332.5L314.6,332.22L315.1,331.93L315.6,331.64L316.1,331.34L316.6,331.03L317.1,330.71L317.6,330.38L318.1,330.05L318.6,329.7L319.1,329.35L319.6,328.99L320.1,328.62L320.6,328.24L321.1,327.86L321.6,327.46L322.1,327.06L322.6,326.64L323.1,326.22L323.6,325.79L324.1,325.35L324.6,324.9L325.1,324.44L325.6,323.97L326.1,323.49L326.6,323L327.1,322.5L327.6,321.99L328.1,321.48L328.6,320.95L329.1,320.42L329.6,319.87L330.1,319.32L330.6,318.76L331.1,318.19L331.6,317.6L332.1,317.01L332.6,316.42L333.1,315.81L333.6,315.19L334.1,314.57L334.6,313.93L335.1,313.29L335.6,312.64L336.1,311.98L336.6,311.32L337.1,310.64L337.6,309.96L338.1,309.27L338.6,308.58L339.1,307.87L339.6,307.17L340.1,306.45L340.6,305.73L341.1,305L341.6,304.27L342.1,303.53L342.6,302.79L343.1,302.04L343.6,301.28L344.1,300.53L344.6,299.77L345.1,299L345.6,298.24L346.1,297.47L346.6,296.69L347.1,295.92L347.6,295.14L348.1,294.37L348.6,293.59L349.1,292.81L349.6,292.03L350.1,291.25L350.6,290.47L351.1,289.7L351.6,288.92L352.1,288.15L352.6,287.38L353.1,286.62L353.6,285.85L354.1,285.1L354.6,284.34L355.1,283.59L355.6,282.85L356.1,282.11L356.6,281.38L357.1,280.65L357.6,279.94L358.1,279.23L358.6,278.52L359.1,277.83L359.6,277.15L360.1,276.47L360.6,275.81L361.1,275.16L361.6,274.51L362.1,273.88L362.6,273.27L363.1,272.66L363.6,272.07L364.1,271.49L364.6,270.92L365.1,270.37L365.6,269.83L366.1,269.31L366.6,268.8L367.1,268.31L367.6,267.83L368.1,267.37L368.6,266.93L369.1,266.51L369.6,266.1L370.1,265.71L370.6,265.34L371.1,264.98L371.6,264.65L372.1,264.33L372.6,264.04L373.1,263.76L373.6,263.5L374.1,263.26L374.6,263.05L375.1,262.85L375.6,262.67L376.1,262.51L376.6,262.38L377.1,262.26L377.6,262.17L378.1,262.09L378.6,262.04L379.1,262.01L379.6,262L380.1,262.01L380.6,262.04L381.1,262.09L381.6,262.17L382.1,262.26L382.6,262.38L383.1,262.51L383.6,262.67L384.1,262.85L384.6,263.05L385.1,263.26L385.6,263.5L386.1,263.76L386.6,264.04L387.1,264.33L387.6,264.65L388.1,264.98L388.6,265.34L389.1,265.71L389.6,266.1L390.1,266.51L390.6,266.93L391.1,267.37L391.6,267.83L392.1,268.31L392.6,268.8L393.1,269.31L393.6,269.83L394.1,270.37L394.6,270.92L395.1,271.49L395.6,272.07L396.1,272.66L396.6,273.27L397.1,273.88L397.6,274.51L398.1,275.16L398.6,275.81L399.1,276.47L399.6,277.15L400.1,277.83L400.6,278.52L401.1,279.23L401.3,279.51M401.3,333.66L401.8,333.42L402.3,333.18L402.8,332.94L403.3,332.68L403.8,332.43L404.3,332.16L404.8,331.89L405.3,331.61L405.8,331.32L406.3,331.02L406.8,330.72L407.3,330.41L407.8,330.09L408.3,329.77L408.8,329.44L409.3,329.1L409.8,328.75L410.3,328.39L410.8,328.03L411.3,327.66L411.8,327.28L412.3,326.89L412.8,326.49L413.3,326.09L413.8,325.67L414.3,325.25L414.8,324.82L415.3,324.38L415.8,323.94L416.3,323.48L416.8,323.02L417.3,322.55L417.8,322.07L418.3,321.58L418.8,321.08L419.3,320.57L419.8,320.06L420.3,319.54L420.8,319L421.3,318.46L421.8,317.92L422.3,317.36L422.8,316.8L423.3,316.23L423.8,315.65L424.3,315.06L424.8,314.46L425.3,313.86L425.8,313.25L426.3,312.63L426.8,312.01L427.3,311.37L427.8,310.73L428.3,310.09L428.8,309.43L429.3,308.78L429.8,308.11L430.3,307.44L430.8,306.76L431.3,306.08L431.8,305.39L432.3,304.7L432.8,304L433.3,303.29L433.8,302.59L434.3,301.87L434.8,301.16L435.3,300.44L435.8,299.71L436.3,298.99L436.8,298.26L437.3,297.53L437.8,296.79L438.3,296.06L438.8,295.32L439.3,294.58L439.8,293.84L440.3,293.1L440.8,292.36L441.3,291.63L441.8,290.89L442.3,290.15L442.8,289.41L443.3,288.68L443.8,287.94L444.3,287.21L444.8,286.49L445.3,285.76L445.8,285.04L446.3,284.32L446.8,283.61L447.3,282.91L447.8,282.2L448.3,281.51L448.8,280.82L449.3,280.13L449.8,279.46L450.3,278.79L450.8,278.13L451.3,277.47L451.8,276.83L452.3,276.19L452.8,275.56L453.3,274.95L453.8,274.34L454.3,273.74L454.8,273.16L455.3,272.58L455.8,272.02L456.3,271.47L456.8,270.93L457.3,270.41L457.8,269.9L458.3,269.4L458.8,268.91L459.3,268.44L459.8,267.98L460.3,267.54L460.8,267.12L461.3,266.7L461.8,266.31L462.3,265.93L462.8,265.57L463.3,265.22L463.8,264.89L464.3,264.57L464.8,264.28L465.3,264L465.8,263.74L466.3,263.49L466.8,263.27L467.3,263.06L467.8,262.87L468.3,262.7L468.8,262.55L469.3,262.41L469.8,262.3L470.3,262.2L470.8,262.12L471.3,262.06L471.8,262.02L472.3,262L472.8,262L473.3,262.02L473.8,262.05L474.3,262.11L474.8,262.18L475.3,262.28L475.8,262.39L476.3,262.52L476.8,262.67L477.3,262.83L477.8,263.02L478.3,263.22L478.8,263.45L479.3,263.69L479.8,263.95L480.3,264.22L480.8,264.51L481.3,264.82L481.8,265.15L482.3,265.49L482.8,265.85L483.3,266.23L483.8,266.62L484.3,267.03L484.8,267.46L485.3,267.89L485.8,268.35L486.3,268.82L486.8,269.3L487.3,269.79L487.8,270.3L488.3,270.83L488.8,271.36L489.3,271.91L489.8,272.47L490.3,273.04L490.8,273.63L491.3,274.22L491.8,274.83L492.3,275.44L492.8,276.06L493.3,276.7L493.8,277.34L494,277.6M494,336.28L494.5,336.1L495,335.91L495.5,335.72L496,335.52L496.5,335.31L497,335.1L497.5,334.87L498,334.64L498.5,334.4L499,334.16L499.5,333.9L500,333.64L500.5,333.37L501,333.09L501.5,332.8L502,332.5L502.5,332.2L503,331.88L503.5,331.56L504,331.22L504.5,330.88L505,330.52L505.5,330.15L506,329.78L506.5,329.39L507,329L507.5,328.59L508,328.17L508.5,327.75L509,327.31L509.5,326.86L510,326.4L510.5,325.92L511,325.44L511.5,324.95L512,324.44L512.5,323.92L513,323.39L513.5,322.85L514,322.3L514.5,321.74L515,321.16L515.5,320.58L516,319.98L516.5,319.37L517,318.76L517.5,318.13L518,317.48L518.5,316.83L519,316.17L519.5,315.49L520,314.81L520.5,314.12L521,313.41L521.5,312.7L522,311.97L522.5,311.24L523,310.5L523.5,309.74L524,308.98L524.5,308.21L525,307.44L525.5,306.65L526,305.86L526.5,305.06L527,304.25L527.5,303.44L528,302.62L528.5,301.79L529,300.96L529.5,300.12L530,299.28L530.5,298.44L531,297.59L531.5,296.74L532,295.89L532.5,295.04L533,294.18L533.5,293.32L534,292.47L534.5,291.61L535,290.75L535.5,289.9L536,289.04L536.5,288.19L537,287.35L537.5,286.5L538,285.66L538.5,284.83L539,284L539.5,283.18L540,282.36L540.5,281.56L541,280.76L541.5,279.97L542,279.18L542.5,278.41L543,277.65L543.5,276.9L544,276.17L544.5,275.44L545,274.73L545.5,274.03L546,273.35L546.5,272.68L547,272.03L547.5,271.39L548,270.77L548.5,270.17L549,269.58L549.5,269.01L550,268.47L550.5,267.94L551,267.43L551.5,266.94L552,266.47L552.5,266.03L553,265.6L553.5,265.2L554,264.82L554.5,264.46L555,264.13L555.5,263.82L556,263.53L556.5,263.27L557,263.03L557.5,262.81L558,262.62L558.5,262.46L559,262.32L559.5,262.2L560,262.11L560.5,262.05L561,262.01L561.5,262L562,262.01L562.5,262.05L563,262.11L563.5,262.2L564,262.32L564.5,262.46L565,262.62L565.5,262.81L566,263.03L566.5,263.27L567,263.53L567.5,263.82L568,264.13L568.5,264.46L569,264.82L569.5,265.2L570,265.6L570.5,266.03L571,266.47L571.5,266.94L572,267.43L572.5,267.94L573,268.47L573.5,269.01L574,269.58L574.5,270.17L575,270.77L575.5,271.39L576,272.03L576.5,272.68L577,273.35L577.5,274.03L578,274.73L578.5,275.44L579,276.17L579.5,276.9L580,277.65L580.5,278.41L581,279.18L581.5,279.97L582,280.76L582.5,281.56L583,282.36L583.5,283.18L584,284L584.5,284.83L585,285.66L585.5,286.5L586,287.35L586.5,288.19L586.7,288.53M586.7,336.45L587.2,336.25L587.7,336.05L588.2,335.85L588.7,335.63L589.2,335.4L589.7,335.17L590.2,334.93L590.7,334.67L591.2,334.41L591.7,334.14L592.2,333.86L592.7,333.57L593.2,333.26L593.7,332.95L594.2,332.63L594.7,332.29L595.2,331.95L595.7,331.59L596.2,331.22L596.7,330.84L597.2,330.44L597.7,330.04L598.2,329.62L598.7,329.19L599.2,328.74L599.7,328.29L600.2,327.82L600.7,327.33L601.2,326.84L601.7,326.33L602.2,325.8L602.7,325.27L603.2,324.72L603.7,324.15L604.2,323.57L604.7,322.98L605.2,322.37L605.7,321.75L606.2,321.12L606.7,320.47L607.2,319.81L607.7,319.14L608.2,318.45L608.7,317.74L609.2,317.03L609.7,316.3L610.2,315.56L610.7,314.8L611.2,314.04L611.7,313.26L612.2,312.47L612.7,311.66L613.2,310.85L613.7,310.02L614.2,309.18L614.7,308.34L615.2,307.48L615.7,306.61L616.2,305.74L616.7,304.85L617.2,303.96L617.7,303.06L618.2,302.15L618.7,301.24L619.2,300.32L619.7,299.39L620.2,298.46L620.7,297.52L621.2,296.58L621.7,295.64L622.2,294.7L622.7,293.75L623.2,292.81L623.7,291.86L624.2,290.92L624.7,289.97L625.2,289.03L625.7,288.09L626.2,287.16L626.7,286.23L627.2,285.31L627.7,284.39L628.2,283.48L628.7,282.58L629.2,281.68L629.7,280.8L630.2,279.93L630.7,279.07L631.2,278.22L631.7,277.38L632.2,276.56L632.7,275.75L633.2,274.96L633.7,274.19L634.2,273.43L634.7,272.69L635.2,271.97L635.7,271.27L636.2,270.59L636.7,269.93L637.2,269.29L637.7,268.68L638.2,268.09L638.7,267.52L639.2,266.98L639.7,266.46L640.2,265.97L640.7,265.51L641.2,265.07L641.7,264.66L642.2,264.28L642.7,263.92L643.2,263.6L643.7,263.3L644.2,263.04L644.7,262.8L645.2,262.59L645.7,262.42L646.2,262.27L646.7,262.16L647.2,262.08L647.7,262.02L648.2,262L648.7,262.01L649.2,262.05L649.7,262.12L650.2,262.22L650.7,262.36L651.2,262.52L651.7,262.72L652.2,262.94L652.7,263.19L653.2,263.48L653.7,263.79L654.2,264.13L654.7,264.5L655.2,264.9L655.7,265.33L656.2,265.78L656.7,266.26L657.2,266.77L657.7,267.3L658.2,267.86L658.7,268.44L659.2,269.05L659.7,269.67L660.2,270.32L660.7,270.99L661.2,271.69L661.7,272.4L662.2,273.13L662.7,273.88L663.2,274.65L663.7,275.43L664.2,276.23L664.7,277.05L665.2,277.88L665.7,278.72L666.2,279.58L666.7,280.45L667.2,281.33L667.7,282.22L668.2,283.12L668.7,284.02L669.2,284.94L669.7,285.86L670.2,286.79L670.7,287.72L671.2,288.66L671.7,289.6L672.2,290.54L672.7,291.48L673.2,292.43L673.7,293.38L674.2,294.32L674.7,295.27L675.2,296.21L675.7,297.15L676.2,298.09L676.7,299.02L677.2,299.95L677.7,300.87L678.2,301.79L678.7,302.7L679.2,303.6L679.4,303.96" fill="none" stroke="#ff0000" stroke-width="1.2"/>
<path d="M179.7,340.16L180.2,340.15L180.7,340.13L181.2,340.11L181.7,340.09L182.2,340.07L182.7,340.05L183.2,340.02L183.7,339.99L184.2,339.96L184.7,339.93L185.2,339.89L185.7,339.85L186.2,339.81L186.7,339.77L187.2,339.72L187.7,339.67L188.2,339.62L188.7,339.56L189.2,339.5L189.7,339.43L190.2,339.36L190.7,339.29L191.2,339.22L191.7,339.13L192.2,339.05L192.7,338.96L193.2,338.87L193.7,338.77L194.2,338.67L194.7,338.56L195.2,338.45L195.7,338.33L196.2,338.21L196.7,338.09L197.2,337.96L197.7,337.83L198.2,337.7L198.7,337.56L199.2,337.42L199.7,337.28L200.2,337.14L200.7,336.99L201.2,336.84L201.7,336.69L202.2,336.54L202.7,336.39L203.2,336.24L203.7,336.09L204.2,335.93L204.7,335.79L205.2,335.64L205.7,335.49L206.2,335.35L206.7,335.21L207.2,335.08L207.7,334.95L208.2,334.82L208.7,334.7L209.2,334.59L209.7,334.48L210.2,334.38L210.7,334.28L211.2,334.19L211.7,334.12L212.2,334.04L212.7,333.98L213.2,333.93L213.7,333.88L214.2,333.85L214.7,333.82L215.2,333.81L215.7,333.8L215.9,333.8M241.9,340.16L242.4,340.15L242.9,340.14L243.4,340.12L243.9,340.11L244.4,340.1L244.9,340.08L245.4,340.06L245.9,340.05L246.4,340.03L246.9,340.01L247.4,339.99L247.9,339.97L248.4,339.94L248.9,339.92L249.4,339.89L249.9,339.86L250.4,339.83L250.9,339.8L251.4,339.77L251.9,339.73L252.4,339.7L252.9,339.66L253.4,339.62L253.9,339.57L254.4,339.53L254.9,339.48L255.4,339.43L255.9,339.38L256.4,339.32L256.9,339.26L257.4,339.2L257.9,339.13L258.4,339.07L258.9,339L259.4,338.92L259.9,338.84L260.4,338.76L260.9,338.68L261.4,338.59L261.9,338.5L262.4,338.4L262.9,338.31L263.4,338.2L263.9,338.09L264.4,337.98L264.9,337.87L265.4,337.75L265.9,337.62L266.4,337.49L266.9,337.36L267.4,337.22L267.9,337.08L268.4,336.93L268.9,336.78L269.4,336.63L269.9,336.47L270.4,336.3L270.9,336.13L271.4,335.96L271.9,335.78L272.4,335.59L272.9,335.4L273.4,335.21L273.9,335.01L274.4,334.81L274.9,334.61L275.4,334.39L275.9,334.18L276.4,333.96L276.9,333.74L277.4,333.51L277.9,333.28L278.4,333.05L278.9,332.81L279.4,332.57L279.9,332.32L280.4,332.08L280.9,331.83L281.4,331.58L281.9,331.32L282.4,331.07L282.9,330.81L283.4,330.55L283.9,330.29L284.4,330.03L284.9,329.77L285.4,329.5L285.9,329.24L286.4,328.98L286.9,328.72L287.4,328.46L287.9,328.2L288.4,327.94L288.9,327.69L289.4,327.43L289.9,327.18L290.4,326.94L290.9,326.69L291.4,326.45L291.9,326.22L292.4,325.99L292.9,325.76L293.4,325.54L293.9,325.32L294.4,325.11L294.9,324.91L295.4,324.71L295.9,324.52L296.4,324.33L296.9,324.15L297.4,323.99L297.9,323.82L298.4,323.67L298.9,323.53L299.4,323.39L299.9,323.26L300.4,323.15L300.9,323.04L301.4,322.94L301.9,322.85L302.4,322.77L302.9,322.7L303.4,322.64L303.9,322.59L304.4,322.55L304.9,322.53L305.4,322.51L305.9,322.5L306.4,322.5L306.9,322.5L307.4,322.5L307.9,322.5L308.4,322.5L308.6,322.5M362.6,340.16L363.1,340.14L363.6,340.12L364.1,340.1L364.6,340.07L365.1,340.04L365.6,340L366.1,339.96L366.6,339.92L367.1,339.87L367.6,339.82L368.1,339.76L368.6,339.69L369.1,339.62L369.6,339.54L370.1,339.46L370.6,339.36L371.1,339.26L371.6,339.15L372.1,339.02L372.6,338.89L373.1,338.75L373.6,338.59L374.1,338.42L374.6,338.24L375.1,338.05L375.6,337.84L376.1,337.61L376.6,337.37L377.1,337.12L377.6,336.85L378.1,336.56L378.6,336.25L379.1,335.93L379.6,335.59L380.1,335.24L380.6,334.87L381.1,334.47L381.6,334.07L382.1,333.64L382.6,333.2L383.1,332.75L383.6,332.27L384.1,331.79L384.6,331.29L385.1,330.78L385.6,330.25L386.1,329.72L386.6,329.18L387.1,328.63L387.6,328.08L388.1,327.52L388.6,326.96L389.1,326.4L389.6,325.84L390.1,325.28L390.6,324.74L391.1,324.2L391.6,323.67L392.1,323.15L392.6,322.65L393.1,322.17L393.6,321.7L394.1,321.26L394.6,320.84L395.1,320.45L395.6,320.09L396.1,319.75L396.6,319.45L397.1,319.18L397.6,318.94L398.1,318.74L398.6,318.58L399.1,318.45L399.6,318.36L400.1,318.31L400.6,318.3L401.1,318.3L401.3,318.3M472.8,340.17L473.3,340.14L473.8,340.09L474.3,340.04L474.8,339.97L475.3,339.89L475.8,339.78L476.3,339.66L476.8,339.52L477.3,339.34L477.8,339.14L478.3,338.89L478.8,338.61L479.3,338.28L479.8,337.91L480.3,337.48L480.8,336.99L481.3,336.45L481.8,335.83L482.3,335.15L482.8,334.41L483.3,333.59L483.8,332.71L484.3,331.76L484.8,330.75L485.3,329.68L485.8,328.57L486.3,327.41L486.8,326.22L487.3,325.02L487.8,323.8L488.3,322.6L488.8,321.42L489.3,320.28L489.8,319.2L490.3,318.19L490.8,317.27L491.3,316.45L491.8,315.75L492.3,315.17L492.8,314.74L493.3,314.45L493.8,314.31L494,314.3M552,340.16L552.5,340.14L553,340.11L553.5,340.08L554,340.05L554.5,340.01L555,339.96L555.5,339.91L556,339.84L556.5,339.78L557,339.7L557.5,339.61L558,339.51L558.5,339.4L559,339.28L559.5,339.14L560,338.98L560.5,338.81L561,338.62L561.5,338.42L562,338.18L562.5,337.93L563,337.65L563.5,337.35L564,337.02L564.5,336.66L565,336.27L565.5,335.85L566,335.4L566.5,334.92L567,334.4L567.5,333.84L568,333.25L568.5,332.62L569,331.96L569.5,331.26L570,330.52L570.5,329.75L571,328.94L571.5,328.1L572,327.23L572.5,326.32L573,325.39L573.5,324.44L574,323.46L574.5,322.46L575,321.45L575.5,320.42L576,319.39L576.5,318.35L577,317.32L577.5,316.3L578,315.28L578.5,314.28L579,313.31L579.5,312.36L580,311.45L580.5,310.58L581,309.75L581.5,308.97L582,308.25L582.5,307.58L583,306.98L583.5,306.44L584,305.98L584.5,305.59L585,305.27L585.5,305.04L586,304.88L586.5,304.81L586.7,304.8M638.2,340.16L638.7,340.14L639.2,340.12L639.7,340.09L640.2,340.06L640.7,340.02L641.2,339.98L641.7,339.93L642.2,339.88L642.7,339.82L643.2,339.75L643.7,339.67L644.2,339.59L644.7,339.49L645.2,339.39L645.7,339.27L646.2,339.13L646.7,338.99L647.2,338.83L647.7,338.65L648.2,338.45L648.7,338.23L649.2,337.99L649.7,337.73L650.2,337.44L650.7,337.13L651.2,336.79L651.7,336.42L652.2,336.02L652.7,335.58L653.2,335.11L653.7,334.61L654.2,334.06L654.7,333.48L655.2,332.85L655.7,332.18L656.2,331.47L656.7,330.71L657.2,329.91L657.7,329.05L658.2,328.15L658.7,327.21L659.2,326.21L659.7,325.16L660.2,324.07L660.7,322.92L661.2,321.73L661.7,320.5L662.2,319.22L662.7,317.89L663.2,316.53L663.7,315.13L664.2,313.69L664.7,312.22L665.2,310.73L665.7,309.21L666.2,307.67L666.7,306.12L667.2,304.56L667.7,302.99L668.2,301.42L668.7,299.86L669.2,298.32L669.7,296.79L670.2,295.29L670.7,293.82L671.2,292.39L671.7,291L672.2,289.66L672.7,288.38L673.2,287.16L673.7,286.02L674.2,284.94L674.7,283.95L675.2,283.04L675.7,282.23L676.2,281.5L676.7,280.88L677.2,280.35L677.7,279.93L678.2,279.61L678.7,279.41L679.2,279.31L679.4,279.3" fill="none" stroke="#1f9a1f" stroke-width="1.2"/>
<path d="M30.5,283.4L31,283.21L31.5,283.02L32,282.83L32.5,282.65L33,282.46L33.5,282.27L34,282.09L34.5,281.9L35,281.72L35.5,281.53L36,281.33L36.5,281.14L37,280.94L37.5,280.73L38,280.53L38.5,280.31L39,280.09L39.5,279.86L40,279.62L40.5,279.38L41,279.12L41.5,278.86L42,278.58L42.5,278.3L43,278L43.5,277.69L44,277.37L44.5,277.04L45,276.69L45.5,276.33L46,275.95L46.5,275.56L47,275.15L47.5,274.73L48,274.3L48.5,273.85L49,273.38L49.5,272.89L50,272.4L50.5,271.88L51,271.35L51.5,270.81L52,270.25L52.5,269.67L53,269.09L53.5,268.48L54,267.87L54.5,267.24L55,266.6L55.5,265.95L56,265.29L56.5,264.62L57,263.94L57.5,263.25L58,262.56L58.5,261.86L59,261.16L59.5,260.45L60,259.74L60.5,259.04L61,258.33L61.5,257.63L62,256.93L62.5,256.23L63,255.55L63.5,254.87L64,254.2L64.5,253.55L65,252.91L65.5,252.28L66,251.68L66.5,251.09L67,250.52L67.5,249.97L68,249.45L68.5,248.96L69,248.49L69.5,248.05L70,247.64L70.5,247.26L71,246.92L71.5,246.61L72,246.34L72.5,246.1L73,245.91L73.5,245.75L74,245.64L74.5,245.56L75,245.53L75.5,245.55L76,245.61L76.5,245.71L77,245.86L77.5,246.06L78,246.31L78.5,246.6L79,246.94L79.5,247.32L80,247.76L80.5,248.24L81,248.76L81.5,249.34L82,249.96L82.5,250.62L83,251.33L83.5,252.09L84,252.89L84.5,253.73L85,254.61L85.5,255.53L86,256.49L86.5,257.49L87,258.53L87.5,259.6L88,260.71L88.5,261.84L89,263.01L89.5,264.21L90,265.43L90.5,266.68L91,267.95L91.5,269.24L92,270.56L92.5,271.89L93,273.24L93.5,274.6L94,275.98L94.5,277.37L95,278.76L95.5,280.16L96,281.57L96.5,282.98L97,284.4L97.5,285.81L98,287.22L98.5,288.63L99,290.03L99.5,291.43L100,292.82L100.5,294.19L101,295.56L101.5,296.92L102,298.26L102.5,299.58L103,300.89L103.5,302.18L104,303.46L104.5,304.71L105,305.94L105.5,307.16L106,308.35L106.5,309.52L107,310.66L107.5,311.78L108,312.88L108.5,313.95L109,314.99L109.5,316.01L110,317.01L110.5,317.98L111,318.92L111.5,319.83L112,320.72L112.5,321.59L113,322.42L113.5,323.23L114,324.02L114.5,324.78L115,325.51L115.5,326.22L116,326.9L116.5,327.56L117,328.19L117.5,328.8L118,329.38L118.5,329.95L119,330.49L119.5,331L120,331.5L120.5,331.97L121,332.43L121.5,332.86L122,333.28L122.5,333.67L123,334.05L123.2,334.2M123.2,274.43L123.7,274.33L124.2,274.24L124.7,274.15L125.2,274.06L125.7,273.98L126.2,273.9L126.7,273.82L127.2,273.75L127.7,273.67L128.2,273.6L128.7,273.53L129.2,273.46L129.7,273.4L130.2,273.33L130.7,273.26L131.2,273.19L131.7,273.12L132.2,273.05L132.7,272.98L133.2,272.91L133.7,272.83L134.2,272.76L134.7,272.68L135.2,272.59L135.7,272.5L136.2,272.41L136.7,272.32L137.2,272.22L137.7,272.11L138.2,272L138.7,271.88L139.2,271.76L139.7,271.63L140.2,271.5L140.7,271.36L141.2,271.21L141.7,271.05L142.2,270.89L142.7,270.72L143.2,270.54L143.7,270.35L144.2,270.15L144.7,269.95L145.2,269.74L145.7,269.51L146.2,269.28L146.7,269.04L147.2,268.8L147.7,268.54L148.2,268.27L148.7,268L149.2,267.71L149.7,267.42L150.2,267.12L150.7,266.81L151.2,266.49L151.7,266.16L152.2,265.82L152.7,265.48L153.2,265.13L153.7,264.77L154.2,264.4L154.7,264.03L155.2,263.65L155.7,263.26L156.2,262.86L156.7,262.47L157.2,262.06L157.7,261.65L158.2,261.24L158.7,260.82L159.2,260.4L159.7,259.98L160.2,259.55L160.7,259.13L161.2,258.7L161.7,258.27L162.2,257.84L162.7,257.41L163.2,256.99L163.7,256.56L164.2,256.14L164.7,255.72L165.2,255.31L165.7,254.9L166.2,254.49L166.7,254.1L167.2,253.7L167.7,253.32L168.2,252.95L168.7,252.58L169.2,252.22L169.7,251.88L170.2,251.55L170.7,251.22L171.2,250.91L171.7,250.62L172.2,250.33L172.7,250.07L173.2,249.81L173.7,249.58L174.2,249.36L174.7,249.16L175.2,248.97L175.7,248.8L176.2,248.66L176.7,248.53L177.2,248.42L177.7,248.33L178.2,248.26L178.7,248.22L179.2,248.19L179.7,248.19L180.2,248.21L180.7,248.25L181.2,248.31L181.7,248.4L182.2,248.51L182.7,248.64L183.2,248.79L183.7,248.97L184.2,249.17L184.7,249.4L185.2,249.65L185.7,249.92L186.2,250.21L186.7,250.53L187.2,250.87L187.7,251.23L188.2,251.61L188.7,252.02L189.2,252.44L189.7,252.89L190.2,253.36L190.7,253.85L191.2,254.35L191.7,254.88L192.2,255.43L192.7,255.99L193.2,256.58L193.7,257.18L194.2,257.8L194.7,258.43L195.2,259.08L195.7,259.75L196.2,260.43L196.7,261.12L197.2,261.83L197.7,262.56L198.2,263.29L198.7,264.04L199.2,264.8L199.7,265.58L200.2,266.36L200.7,267.16L201.2,267.96L201.7,268.78L202.2,269.6L202.7,270.44L203.2,271.28L203.7,272.13L204.2,272.99L204.7,273.86L205.2,274.74L205.7,275.62L206.2,276.51L206.7,277.41L207.2,278.31L207.7,279.22L208.2,280.14L208.7,281.06L209.2,281.99L209.7,282.92L210.2,283.86L210.7,284.8L211.2,285.75L211.7,286.7L212.2,287.66L212.7,288.62L213.2,289.58L213.7,290.54L214.2,291.51L214.7,292.48L215.2,293.45L215.7,294.42L215.9,294.81M215.9,281.06L216.4,280.86L216.9,280.66L217.4,280.48L217.9,280.3L218.4,280.13L218.9,279.97L219.4,279.82L219.9,279.68L220.4,279.55L220.9,279.42L221.4,279.31L221.9,279.2L222.4,279.09L222.9,279L223.4,278.9L223.9,278.82L224.4,278.74L224.9,278.67L225.4,278.6L225.9,278.53L226.4,278.47L226.9,278.41L227.4,278.36L227.9,278.31L228.4,278.26L228.9,278.21L229.4,278.16L229.9,278.12L230.4,278.07L230.9,278.03L231.4,277.98L231.9,277.94L232.4,277.89L232.9,277.84L233.4,277.79L233.9,277.74L234.4,277.68L234.9,277.62L235.4,277.56L235.9,277.49L236.4,277.42L236.9,277.34L237.4,277.25L237.9,277.16L238.4,277.07L238.9,276.97L239.4,276.86L239.9,276.74L240.4,276.61L240.9,276.48L241.4,276.34L241.9,276.19L242.4,276.03L242.9,275.86L243.4,275.69L243.9,275.5L244.4,275.3L244.9,275.1L245.4,274.88L245.9,274.65L246.4,274.42L246.9,274.17L247.4,273.91L247.9,273.65L248.4,273.37L248.9,273.08L249.4,272.78L249.9,272.47L250.4,272.15L250.9,271.82L251.4,271.48L251.9,271.13L252.4,270.77L252.9,270.4L253.4,270.02L253.9,269.63L254.4,269.24L254.9,268.83L255.4,268.42L255.9,267.99L256.4,267.57L256.9,267.13L257.4,266.68L257.9,266.23L258.4,265.78L258.9,265.32L259.4,264.85L259.9,264.38L260.4,263.9L260.9,263.42L261.4,262.94L261.9,262.45L262.4,261.96L262.9,261.48L263.4,260.99L263.9,260.49L264.4,260L264.9,259.51L265.4,259.03L265.9,258.54L266.4,258.06L266.9,257.58L267.4,257.1L267.9,256.63L268.4,256.16L268.9,255.7L269.4,255.24L269.9,254.8L270.4,254.36L270.9,253.93L271.4,253.5L271.9,253.09L272.4,252.69L272.9,252.3L273.4,251.92L273.9,251.55L274.4,251.19L274.9,250.85L275.4,250.52L275.9,250.21L276.4,249.91L276.9,249.63L277.4,249.36L277.9,249.11L278.4,248.88L278.9,248.66L279.4,248.47L279.9,248.29L280.4,248.13L280.9,247.99L281.4,247.87L281.9,247.77L282.4,247.69L282.9,247.63L283.4,247.6L283.9,247.58L284.4,247.59L284.9,247.62L285.4,247.67L285.9,247.74L286.4,247.84L286.9,247.96L287.4,248.11L287.9,248.28L288.4,248.47L288.9,248.68L289.4,248.92L289.9,249.19L290.4,249.47L290.9,249.79L291.4,250.12L291.9,250.48L292.4,250.86L292.9,251.27L293.4,251.7L293.9,252.15L294.4,252.63L294.9,253.13L295.4,253.66L295.9,254.2L296.4,254.77L296.9,255.36L297.4,255.97L297.9,256.61L298.4,257.26L298.9,257.94L299.4,258.63L299.9,259.35L300.4,260.09L300.9,260.84L301.4,261.61L301.9,262.41L302.4,263.22L302.9,264.04L303.4,264.88L303.9,265.74L304.4,266.62L304.9,267.51L305.4,268.41L305.9,269.33L306.4,270.25L306.9,271.18L307.4,272.11L307.9,273.04L308.4,273.97L308.6,274.34M308.6,284.29L309.1,284.18L309.6,284.08L310.1,283.98L310.6,283.88L311.1,283.78L311.6,283.69L312.1,283.6L312.6,283.51L313.1,283.43L313.6,283.34L314.1,283.26L314.6,283.18L315.1,283.09L315.6,283.01L316.1,282.93L316.6,282.85L317.1,282.77L317.6,282.69L318.1,282.61L318.6,282.53L319.1,282.45L319.6,282.37L320.1,282.28L320.6,282.2L321.1,282.11L321.6,282.02L322.1,281.92L322.6,281.83L323.1,281.73L323.6,281.63L324.1,281.52L324.6,281.42L325.1,281.3L325.6,281.19L326.1,281.07L326.6,280.95L327.1,280.82L327.6,280.68L328.1,280.55L328.6,280.4L329.1,280.25L329.6,280.1L330.1,279.94L330.6,279.78L331.1,279.61L331.6,279.43L332.1,279.25L332.6,279.06L333.1,278.87L333.6,278.67L334.1,278.46L334.6,278.25L335.1,278.03L335.6,277.8L336.1,277.57L336.6,277.33L337.1,277.08L337.6,276.83L338.1,276.57L338.6,276.31L339.1,276.03L339.6,275.76L340.1,275.47L340.6,275.18L341.1,274.88L341.6,274.58L342.1,274.27L342.6,273.96L343.1,273.64L343.6,273.31L344.1,272.98L344.6,272.65L345.1,272.31L345.6,271.96L346.1,271.61L346.6,271.26L347.1,270.9L347.6,270.54L348.1,270.18L348.6,269.81L349.1,269.44L349.6,269.06L350.1,268.69L350.6,268.31L351.1,267.93L351.6,267.55L352.1,267.17L352.6,266.78L353.1,266.4L353.6,266.02L354.1,265.63L354.6,265.25L355.1,264.87L355.6,264.49L356.1,264.11L356.6,263.74L357.1,263.36L357.6,262.99L358.1,262.62L358.6,262.26L359.1,261.9L359.6,261.54L360.1,261.19L360.6,260.84L361.1,260.5L361.6,260.16L362.1,259.83L362.6,259.51L363.1,259.19L363.6,258.87L364.1,258.56L364.6,258.26L365.1,257.97L365.6,257.68L366.1,257.4L366.6,257.12L367.1,256.85L367.6,256.59L368.1,256.33L368.6,256.08L369.1,255.84L369.6,255.6L370.1,255.37L370.6,255.14L371.1,254.92L371.6,254.71L372.1,254.49L372.6,254.29L373.1,254.08L373.6,253.88L374.1,253.69L374.6,253.49L375.1,253.3L375.6,253.11L376.1,252.93L376.6,252.74L377.1,252.56L377.6,252.37L378.1,252.19L378.6,252.01L379.1,251.83L379.6,251.64L380.1,251.46L380.6,251.28L381.1,251.1L381.6,250.91L382.1,250.73L382.6,250.55L383.1,250.37L383.6,250.2L384.1,250.02L384.6,249.85L385.1,249.69L385.6,249.53L386.1,249.37L386.6,249.23L387.1,249.09L387.6,248.96L388.1,248.85L388.6,248.75L389.1,248.67L389.6,248.6L390.1,248.55L390.6,248.53L391.1,248.52L391.6,248.54L392.1,248.59L392.6,248.67L393.1,248.78L393.6,248.92L394.1,249.09L394.6,249.3L395.1,249.55L395.6,249.84L396.1,250.17L396.6,250.54L397.1,250.95L397.6,251.41L398.1,251.92L398.6,252.46L399.1,253.06L399.6,253.7L400.1,254.39L400.6,255.12L401.1,255.88L401.3,256.18M401.3,278.66L401.8,278.59L402.3,278.52L402.8,278.45L403.3,278.38L403.8,278.32L404.3,278.26L404.8,278.21L405.3,278.16L405.8,278.11L406.3,278.06L406.8,278.02L407.3,277.97L407.8,277.93L408.3,277.89L408.8,277.86L409.3,277.82L409.8,277.78L410.3,277.74L410.8,277.71L411.3,277.67L411.8,277.63L412.3,277.6L412.8,277.56L413.3,277.52L413.8,277.48L414.3,277.43L414.8,277.39L415.3,277.34L415.8,277.3L416.3,277.24L416.8,277.19L417.3,277.13L417.8,277.07L418.3,277.01L418.8,276.94L419.3,276.87L419.8,276.8L420.3,276.72L420.8,276.64L421.3,276.55L421.8,276.45L422.3,276.36L422.8,276.26L423.3,276.15L423.8,276.04L424.3,275.92L424.8,275.79L425.3,275.66L425.8,275.53L426.3,275.39L426.8,275.24L427.3,275.09L427.8,274.93L428.3,274.77L428.8,274.59L429.3,274.42L429.8,274.23L430.3,274.05L430.8,273.85L431.3,273.65L431.8,273.44L432.3,273.23L432.8,273.01L433.3,272.78L433.8,272.55L434.3,272.32L434.8,272.07L435.3,271.83L435.8,271.57L436.3,271.31L436.8,271.05L437.3,270.78L437.8,270.51L438.3,270.23L438.8,269.95L439.3,269.66L439.8,269.37L440.3,269.08L440.8,268.78L441.3,268.48L441.8,268.18L442.3,267.87L442.8,267.56L443.3,267.25L443.8,266.94L444.3,266.62L444.8,266.3L445.3,265.99L445.8,265.67L446.3,265.35L446.8,265.03L447.3,264.72L447.8,264.4L448.3,264.08L448.8,263.77L449.3,263.46L449.8,263.15L450.3,262.84L450.8,262.53L451.3,262.23L451.8,261.93L452.3,261.64L452.8,261.35L453.3,261.06L453.8,260.78L454.3,260.51L454.8,260.24L455.3,259.98L455.8,259.72L456.3,259.47L456.8,259.23L457.3,259L457.8,258.77L458.3,258.55L458.8,258.34L459.3,258.14L459.8,257.95L460.3,257.77L460.8,257.6L461.3,257.45L461.8,257.3L462.3,257.16L462.8,257.03L463.3,256.92L463.8,256.82L464.3,256.72L464.8,256.65L465.3,256.58L465.8,256.53L466.3,256.49L466.8,256.46L467.3,256.45L467.8,256.45L468.3,256.46L468.8,256.49L469.3,256.53L469.8,256.58L470.3,256.65L470.8,256.73L471.3,256.82L471.8,256.92L472.3,257.03L472.8,257.15L473.3,257.28L473.8,257.41L474.3,257.55L474.8,257.69L475.3,257.84L475.8,257.98L476.3,258.11L476.8,258.24L477.3,258.35L477.8,258.44L478.3,258.52L478.8,258.57L479.3,258.59L479.8,258.58L480.3,258.52L480.8,258.43L481.3,258.29L481.8,258.09L482.3,257.85L482.8,257.55L483.3,257.2L483.8,256.79L484.3,256.33L484.8,255.82L485.3,255.26L485.8,254.67L486.3,254.05L486.8,253.42L487.3,252.77L487.8,252.13L488.3,251.51L488.8,250.93L489.3,250.4L489.8,249.93L490.3,249.55L490.8,249.26L491.3,249.09L491.8,249.04L492.3,249.13L492.8,249.37L493.3,249.76L493.8,250.3L494,250.57M494,280.36L494.5,280.3L495,280.23L495.5,280.18L496,280.12L496.5,280.07L497,280.03L497.5,279.99L498,279.95L498.5,279.91L499,279.88L499.5,279.84L500,279.81L500.5,279.78L501,279.76L501.5,279.73L502,279.7L502.5,279.68L503,279.65L503.5,279.62L504,279.6L504.5,279.57L505,279.54L505.5,279.51L506,279.47L506.5,279.44L507,279.4L507.5,279.36L508,279.31L508.5,279.26L509,279.21L509.5,279.15L510,279.09L510.5,279.03L511,278.96L511.5,278.88L512,278.8L512.5,278.71L513,278.61L513.5,278.51L514,278.41L514.5,278.29L515,278.17L515.5,278.04L516,277.9L516.5,277.76L517,277.61L517.5,277.45L518,277.28L518.5,277.11L519,276.92L519.5,276.73L520,276.53L520.5,276.32L521,276.1L521.5,275.87L522,275.63L522.5,275.39L523,275.14L523.5,274.88L524,274.6L524.5,274.33L525,274.04L525.5,273.74L526,273.44L526.5,273.13L527,272.81L527.5,272.48L528,272.15L528.5,271.81L529,271.46L529.5,271.11L530,270.75L530.5,270.38L531,270.01L531.5,269.63L532,269.24L532.5,268.86L533,268.46L533.5,268.07L534,267.67L534.5,267.27L535,266.86L535.5,266.45L536,266.04L536.5,265.63L537,265.22L537.5,264.81L538,264.4L538.5,263.99L539,263.58L539.5,263.17L540,262.77L540.5,262.37L541,261.97L541.5,261.57L542,261.19L542.5,260.8L543,260.42L543.5,260.05L544,259.68L544.5,259.33L545,258.97L545.5,258.63L546,258.3L546.5,257.97L547,257.66L547.5,257.36L548,257.06L548.5,256.78L549,256.51L549.5,256.25L550,256L550.5,255.77L551,255.55L551.5,255.34L552,255.14L552.5,254.96L553,254.79L553.5,254.63L554,254.48L554.5,254.35L555,254.23L555.5,254.12L556,254.03L556.5,253.94L557,253.86L557.5,253.8L558,253.74L558.5,253.69L559,253.65L559.5,253.61L560,253.58L560.5,253.56L561,253.53L561.5,253.51L562,253.48L562.5,253.46L563,253.43L563.5,253.4L564,253.36L564.5,253.31L565,253.26L565.5,253.19L566,253.11L566.5,253.02L567,252.92L567.5,252.8L568,252.66L568.5,252.51L569,252.34L569.5,252.15L570,251.95L570.5,251.73L571,251.49L571.5,251.24L572,250.97L572.5,250.69L573,250.4L573.5,250.1L574,249.79L574.5,249.48L575,249.16L575.5,248.86L576,248.55L576.5,248.26L577,247.98L577.5,247.73L578,247.49L578.5,247.29L579,247.12L579.5,246.98L580,246.89L580.5,246.85L581,246.86L581.5,246.93L582,247.06L582.5,247.25L583,247.52L583.5,247.86L584,248.27L584.5,248.76L585,249.33L585.5,249.99L586,250.72L586.5,251.54L586.7,251.9M586.7,275.34L587.2,275.14L587.7,274.95L588.2,274.77L588.7,274.6L589.2,274.45L589.7,274.3L590.2,274.16L590.7,274.02L591.2,273.9L591.7,273.79L592.2,273.68L592.7,273.58L593.2,273.49L593.7,273.41L594.2,273.33L594.7,273.25L595.2,273.19L595.7,273.12L596.2,273.07L596.7,273.01L597.2,272.96L597.7,272.91L598.2,272.87L598.7,272.83L599.2,272.78L599.7,272.74L600.2,272.7L600.7,272.66L601.2,272.62L601.7,272.58L602.2,272.54L602.7,272.5L603.2,272.45L603.7,272.4L604.2,272.35L604.7,272.29L605.2,272.23L605.7,272.16L606.2,272.09L606.7,272.01L607.2,271.93L607.7,271.84L608.2,271.75L608.7,271.65L609.2,271.54L609.7,271.42L610.2,271.3L610.7,271.17L611.2,271.02L611.7,270.88L612.2,270.72L612.7,270.55L613.2,270.38L613.7,270.19L614.2,270L614.7,269.8L615.2,269.58L615.7,269.36L616.2,269.13L616.7,268.89L617.2,268.65L617.7,268.39L618.2,268.12L618.7,267.85L619.2,267.57L619.7,267.28L620.2,266.98L620.7,266.68L621.2,266.37L621.7,266.05L622.2,265.72L622.7,265.39L623.2,265.06L623.7,264.72L624.2,264.37L624.7,264.02L625.2,263.67L625.7,263.32L626.2,262.96L626.7,262.6L627.2,262.24L627.7,261.88L628.2,261.52L628.7,261.16L629.2,260.8L629.7,260.45L630.2,260.1L630.7,259.75L631.2,259.4L631.7,259.06L632.2,258.73L632.7,258.4L633.2,258.08L633.7,257.77L634.2,257.47L634.7,257.17L635.2,256.89L635.7,256.61L636.2,256.35L636.7,256.09L637.2,255.85L637.7,255.62L638.2,255.41L638.7,255.2L639.2,255.01L639.7,254.84L640.2,254.67L640.7,254.53L641.2,254.39L641.7,254.27L642.2,254.16L642.7,254.07L643.2,253.99L643.7,253.92L644.2,253.87L644.7,253.82L645.2,253.79L645.7,253.77L646.2,253.76L646.7,253.76L647.2,253.77L647.7,253.78L648.2,253.8L648.7,253.83L649.2,253.85L649.7,253.88L650.2,253.91L650.7,253.94L651.2,253.96L651.7,253.98L652.2,253.99L652.7,253.99L653.2,253.98L653.7,253.96L654.2,253.92L654.7,253.86L655.2,253.79L655.7,253.7L656.2,253.58L656.7,253.44L657.2,253.28L657.7,253.09L658.2,252.87L658.7,252.61L659.2,252.33L659.7,252.02L660.2,251.67L660.7,251.29L661.2,250.87L661.7,250.42L662.2,249.92L662.7,249.39L663.2,248.81L663.7,248.19L664.2,247.52L664.7,246.81L665.2,246.05L665.7,245.25L666.2,244.4L666.7,243.51L667.2,242.59L667.7,241.64L668.2,240.68L668.7,239.71L669.2,238.75L669.7,237.82L670.2,236.94L670.7,236.12L671.2,235.39L671.7,234.76L672.2,234.25L672.7,233.86L673.2,233.62L673.7,233.53L674.2,233.58L674.7,233.77L675.2,234.11L675.7,234.57L676.2,235.16L676.7,235.87L677.2,236.67L677.7,237.57L678.2,238.56L678.7,239.62L679.2,240.75L679.4,241.22" fill="none" stroke="#111" stroke-width="1.1"/>
<path d="M123.1,339.2L215.8,332.7M215.8,332.7L308.5,322.5M308.5,322.5L401.3,318M401.3,318L494,314.4M494,314.4L586.7,303.5M586.7,303.5L679.4,277.8" fill="none" stroke="#22b540" stroke-width="1.7" stroke-dasharray="1.9,1.6"/>
<rect x="30.5" y="203.3" width="648.9" height="137" fill="none" stroke="#1a1a1a" stroke-width="1.3"/>
<line x1="123.2" y1="203.3" x2="123.2" y2="340.3" stroke="#1a1a1a" stroke-width="1.3"/>
<line x1="215.9" y1="203.3" x2="215.9" y2="340.3" stroke="#1a1a1a" stroke-width="1.3"/>
<line x1="308.6" y1="203.3" x2="308.6" y2="340.3" stroke="#1a1a1a" stroke-width="1.3"/>
<line x1="401.3" y1="203.3" x2="401.3" y2="340.3" stroke="#1a1a1a" stroke-width="1.3"/>
<line x1="494" y1="203.3" x2="494" y2="340.3" stroke="#1a1a1a" stroke-width="1.3"/>
<line x1="586.7" y1="203.3" x2="586.7" y2="340.3" stroke="#1a1a1a" stroke-width="1.3"/>
<path d="M61.4,340.3V334M92.3,340.3V334M154.1,340.3V334M185,340.3V334M246.8,340.3V334M277.7,340.3V334M339.5,340.3V334M370.4,340.3V334M432.2,340.3V334M463.1,340.3V334M524.9,340.3V334M555.8,340.3V334M617.6,340.3V334M648.5,340.3V334" stroke="#1a1a1a" stroke-width="1.1"/>
<line x1="215.9" y1="309.36" x2="215.9" y2="334" stroke="#ff5555" stroke-width="3.4"/>
<path d="M215.9,303.06 L220.2,311.56 L215.9,309.36 L211.6,311.56 Z" fill="#ff5555"/>
<path d="M215.9,340.3 L220.2,331.8 L215.9,334 L211.6,331.8 Z" fill="#ff5555"/>
<line x1="308.6" y1="298.93" x2="308.6" y2="334" stroke="#ff5555" stroke-width="3.4"/>
<path d="M308.6,292.63 L312.9,301.13 L308.6,298.93 L304.3,301.13 Z" fill="#ff5555"/>
<path d="M308.6,340.3 L312.9,331.8 L308.6,334 L304.3,331.8 Z" fill="#ff5555"/>
<line x1="401.3" y1="285.81" x2="401.3" y2="334" stroke="#ff5555" stroke-width="3.4"/>
<path d="M401.3,279.51 L405.6,288.01 L401.3,285.81 L397,288.01 Z" fill="#ff5555"/>
<path d="M401.3,340.3 L405.6,331.8 L401.3,334 L397,331.8 Z" fill="#ff5555"/>
<line x1="494" y1="283.9" x2="494" y2="334" stroke="#ff5555" stroke-width="3.4"/>
<path d="M494,277.6 L498.3,286.1 L494,283.9 L489.7,286.1 Z" fill="#ff5555"/>
<path d="M494,340.3 L498.3,331.8 L494,334 L489.7,331.8 Z" fill="#ff5555"/>
<line x1="586.7" y1="294.83" x2="586.7" y2="334" stroke="#ff5555" stroke-width="3.4"/>
<path d="M586.7,288.53 L591,297.03 L586.7,294.83 L582.4,297.03 Z" fill="#ff5555"/>
<path d="M586.7,340.3 L591,331.8 L586.7,334 L582.4,331.8 Z" fill="#ff5555"/>
<line x1="679.4" y1="310.26" x2="679.4" y2="334" stroke="#ff5555" stroke-width="3.4"/>
<path d="M679.4,303.96 L683.7,312.46 L679.4,310.26 L675.1,312.46 Z" fill="#ff5555"/>
<path d="M679.4,340.3 L683.7,331.8 L679.4,334 L675.1,331.8 Z" fill="#ff5555"/>
<text x="30.5" y="355" font-size="12" text-anchor="middle" fill="#000" >60</text>
<text x="61.4" y="355" font-size="12" text-anchor="middle" fill="#000" >40</text>
<text x="92.3" y="355" font-size="12" text-anchor="middle" fill="#000" >20</text>
<text x="122" y="355.5" font-size="12" text-anchor="middle"><tspan font-style="italic">E</tspan><tspan font-size="8.5" dy="3">F</tspan></text>
<text x="154.1" y="355" font-size="12" text-anchor="middle" fill="#000" >40</text>
<text x="185" y="355" font-size="12" text-anchor="middle" fill="#000" >20</text>
<text x="214.7" y="355.5" font-size="12" text-anchor="middle"><tspan font-style="italic">E</tspan><tspan font-size="8.5" dy="3">F</tspan></text>
<text x="246.8" y="355" font-size="12" text-anchor="middle" fill="#000" >40</text>
<text x="277.7" y="355" font-size="12" text-anchor="middle" fill="#000" >20</text>
<text x="307.4" y="355.5" font-size="12" text-anchor="middle"><tspan font-style="italic">E</tspan><tspan font-size="8.5" dy="3">F</tspan></text>
<text x="339.5" y="355" font-size="12" text-anchor="middle" fill="#000" >40</text>
<text x="370.4" y="355" font-size="12" text-anchor="middle" fill="#000" >20</text>
<text x="400.1" y="355.5" font-size="12" text-anchor="middle"><tspan font-style="italic">E</tspan><tspan font-size="8.5" dy="3">F</tspan></text>
<text x="432.2" y="355" font-size="12" text-anchor="middle" fill="#000" >40</text>
<text x="463.1" y="355" font-size="12" text-anchor="middle" fill="#000" >20</text>
<text x="492.8" y="355.5" font-size="12" text-anchor="middle"><tspan font-style="italic">E</tspan><tspan font-size="8.5" dy="3">F</tspan></text>
<text x="524.9" y="355" font-size="12" text-anchor="middle" fill="#000" >40</text>
<text x="555.8" y="355" font-size="12" text-anchor="middle" fill="#000" >20</text>
<text x="585.5" y="355.5" font-size="12" text-anchor="middle"><tspan font-style="italic">E</tspan><tspan font-size="8.5" dy="3">F</tspan></text>
<text x="617.6" y="355" font-size="12" text-anchor="middle" fill="#000" >40</text>
<text x="648.5" y="355" font-size="12" text-anchor="middle" fill="#000" >20</text>
<text x="678.2" y="355.5" font-size="12" text-anchor="middle"><tspan font-style="italic">E</tspan><tspan font-size="8.5" dy="3">F</tspan></text>
<text x="364.3" y="375" font-size="13.3" text-anchor="middle" fill="#000" >Binding energy (meV)</text>
<text x="68.3" y="219.8" font-size="11.5" text-anchor="middle" fill="#000" >Non-SC</text>
<text x="68.3" y="233.8" font-size="11.5" text-anchor="middle"><tspan font-style="italic">n</tspan> ≈ 0.06</text>
<text x="164.2" y="219.8" font-size="11.5" text-anchor="middle" fill="#000" >UD13</text>
<text x="164.2" y="233.8" font-size="11.5" text-anchor="middle"><tspan font-style="italic">n</tspan> ≈ 0.09</text>
<text x="257.7" y="219.8" font-size="11.5" text-anchor="middle" fill="#000" >UD17</text>
<text x="257.7" y="233.8" font-size="11.5" text-anchor="middle"><tspan font-style="italic">n</tspan> ≈ 0.11</text>
<text x="352.7" y="219.8" font-size="11.5" text-anchor="middle" fill="#000" >UD21</text>
<text x="352.7" y="233.8" font-size="11.5" text-anchor="middle"><tspan font-style="italic">n</tspan> ≈ 0.135</text>
<text x="442.5" y="219.8" font-size="11.5" text-anchor="middle" fill="#000" >OP25</text>
<text x="442.5" y="233.8" font-size="11.5" text-anchor="middle"><tspan font-style="italic">n</tspan> ≈ 0.15</text>
<text x="538.3" y="219.8" font-size="11.5" text-anchor="middle" fill="#000" >OD18</text>
<text x="538.3" y="233.8" font-size="11.5" text-anchor="middle"><tspan font-style="italic">n</tspan> ≈ 0.175</text>
<text x="633.5" y="219.8" font-size="11.5" text-anchor="middle" fill="#000" >OD11</text>
<text x="633.5" y="233.8" font-size="11.5" text-anchor="middle"><tspan font-style="italic">n</tspan> ≈ 0.22</text>
<text x="270.6" y="313.2" font-size="13" fill="#ff0000">Z<tspan font-size="8.4" dy="2.6">hole_fit</tspan></text>
<text transform="translate(14.8,270) rotate(-90)" font-size="13.4" text-anchor="middle">Intensity / F. D. (arb. u.)</text>
<text x="0" y="198.5" font-size="18" font-weight="bold">b</text>
</g>
<g id="pcde">
<rect x="69.5" y="407.4" width="185.9" height="94.1" fill="none" stroke="#1a1a1a" stroke-width="1.15"/>
<path d="M69.5,497.7h5M255.4,497.7h-5M69.5,469.57h5M255.4,469.57h-5M69.5,441.44h5M255.4,441.44h-5M69.5,413.31h5M255.4,413.31h-5M69.5,483.63h2.5M255.4,483.63h-2.5M69.5,455.5h2.5M255.4,455.5h-2.5M69.5,427.38h2.5M255.4,427.38h-2.5M90.16,407.4v4.5M90.16,501.5v-4.5M131.47,407.4v4.5M131.47,501.5v-4.5M172.78,407.4v4.5M172.78,501.5v-4.5M214.09,407.4v4.5M214.09,501.5v-4.5M110.81,407.4v2.5M110.81,501.5v-2.5M152.12,407.4v2.5M152.12,501.5v-2.5M193.43,407.4v2.5M193.43,501.5v-2.5M234.74,407.4v2.5M234.74,501.5v-2.5" stroke="#1a1a1a" stroke-width="1"/>
<text x="65.5" y="502" font-size="12" text-anchor="end" fill="#000" >0</text>
<text x="65.5" y="473.87" font-size="12" text-anchor="end" fill="#000" >10</text>
<text x="65.5" y="445.74" font-size="12" text-anchor="end" fill="#000" >20</text>
<text x="65.5" y="417.61" font-size="12" text-anchor="end" fill="#000" >30</text>
<text x="90.16" y="401.8" font-size="12" text-anchor="middle" fill="#000" >0.05</text>
<text x="131.47" y="401.8" font-size="12" text-anchor="middle" fill="#000" >0.10</text>
<text x="172.78" y="401.8" font-size="12" text-anchor="middle" fill="#000" >0.15</text>
<text x="214.09" y="401.8" font-size="12" text-anchor="middle" fill="#000" >0.20</text>
<text x="255.4" y="401.8" font-size="12" text-anchor="middle" fill="#000" >0.25</text>
<path d="M86.02,483.07V497.7M83.82,483.07h4.4M83.82,497.7h4.4" stroke="#666666" stroke-width="0.8" fill="none"/><path d="M98.42,483.07V497.7M96.22,483.07h4.4M96.22,497.7h4.4" stroke="#666666" stroke-width="0.8" fill="none"/><path d="M114.94,463.1V474.35M112.74,463.1h4.4M112.74,474.35h4.4" stroke="#666666" stroke-width="0.8" fill="none"/><path d="M123.2,455.22V466.48M121,455.22h4.4M121,466.48h4.4" stroke="#666666" stroke-width="0.8" fill="none"/><path d="M139.73,443.69V455.5M137.53,443.69h4.4M137.53,455.5h4.4" stroke="#666666" stroke-width="0.8" fill="none"/><path d="M160.38,433V444.25M158.18,433h4.4M158.18,444.25h4.4" stroke="#666666" stroke-width="0.8" fill="none"/><path d="M172.78,421.47V436.1M170.58,421.47h4.4M170.58,436.1h4.4" stroke="#666666" stroke-width="0.8" fill="none"/><path d="M185.17,436.38V447.63M182.97,436.38h4.4M182.97,447.63h4.4" stroke="#666666" stroke-width="0.8" fill="none"/><path d="M193.43,441.44V452.69M191.23,441.44h4.4M191.23,452.69h4.4" stroke="#666666" stroke-width="0.8" fill="none"/><path d="M201.7,453.54V468.16M199.5,453.54h4.4M199.5,468.16h4.4" stroke="#666666" stroke-width="0.8" fill="none"/><path d="M228.96,461.13V472.38M226.76,461.13h4.4M226.76,472.38h4.4" stroke="#666666" stroke-width="0.8" fill="none"/><circle cx="86.02" cy="497.7" r="3" fill="#fff" stroke="#222" stroke-width="1"/><circle cx="98.42" cy="497.7" r="3" fill="#fff" stroke="#222" stroke-width="1"/><circle cx="114.94" cy="468.73" r="3" fill="#fff" stroke="#222" stroke-width="1"/><circle cx="123.2" cy="460.85" r="3" fill="#fff" stroke="#222" stroke-width="1"/><circle cx="139.73" cy="449.6" r="3" fill="#fff" stroke="#222" stroke-width="1"/><circle cx="160.38" cy="438.63" r="3" fill="#fff" stroke="#222" stroke-width="1"/><circle cx="172.78" cy="428.78" r="3" fill="#fff" stroke="#222" stroke-width="1"/><circle cx="185.17" cy="442" r="3" fill="#fff" stroke="#222" stroke-width="1"/><circle cx="193.43" cy="447.07" r="3" fill="#fff" stroke="#222" stroke-width="1"/><circle cx="201.7" cy="460.85" r="3" fill="#fff" stroke="#222" stroke-width="1"/><circle cx="228.96" cy="466.76" r="3" fill="#fff" stroke="#222" stroke-width="1"/>
<rect x="211.5" y="420.2" width="33.3" height="15.3" fill="#fff" stroke="#888" stroke-width="0.9"/>
<circle cx="223.8" cy="427" r="2.9" fill="#fff" stroke="#222" stroke-width="1"/>
<text x="235" y="431.2" font-size="10" font-style="italic">T<tspan font-size="7" dy="2.3" font-style="normal">c</tspan></text>
<text x="77" y="430.5" font-size="18" font-weight="bold">c</text>
<text transform="translate(30.5,451.5) rotate(-90)" font-size="13" text-anchor="middle"><tspan font-style="italic">T</tspan> (K)</text>
<rect x="69.5" y="501.5" width="185.9" height="93.8" fill="none" stroke="#1a1a1a" stroke-width="1.15"/>
<path d="M69.5,591h5M255.4,591h-5M69.5,570.58h5M255.4,570.58h-5M69.5,550.15h5M255.4,550.15h-5M69.5,529.73h5M255.4,529.73h-5M69.5,509.3h5M255.4,509.3h-5M69.5,580.79h2.5M255.4,580.79h-2.5M69.5,560.36h2.5M255.4,560.36h-2.5M69.5,539.94h2.5M255.4,539.94h-2.5M69.5,519.51h2.5M255.4,519.51h-2.5M90.16,501.5v4.5M90.16,595.3v-4.5M131.47,501.5v4.5M131.47,595.3v-4.5M172.78,501.5v4.5M172.78,595.3v-4.5M214.09,501.5v4.5M214.09,595.3v-4.5M110.81,501.5v2.5M110.81,595.3v-2.5M152.12,501.5v2.5M152.12,595.3v-2.5M193.43,501.5v2.5M193.43,595.3v-2.5M234.74,501.5v2.5M234.74,595.3v-2.5" stroke="#1a1a1a" stroke-width="1"/>
<text x="65.5" y="595.3" font-size="12" text-anchor="end" fill="#000" >0.00</text>
<text x="65.5" y="574.88" font-size="12" text-anchor="end" fill="#000" >0.25</text>
<text x="65.5" y="554.45" font-size="12" text-anchor="end" fill="#000" >0.50</text>
<text x="65.5" y="534.02" font-size="12" text-anchor="end" fill="#000" >0.75</text>
<text x="65.5" y="513.6" font-size="12" text-anchor="end" fill="#000" >1.00</text>
<path d="M86.02,560.36V582.83M83.82,560.36h4.4M83.82,582.83h4.4" stroke="#ff6666" stroke-width="0.8" fill="none"/><path d="M98.42,577.93V595.09M96.22,577.93h4.4M96.22,595.09h4.4" stroke="#ff6666" stroke-width="0.8" fill="none"/><path d="M114.94,541.16V557.5M112.74,541.16h4.4M112.74,557.5h4.4" stroke="#ff6666" stroke-width="0.8" fill="none"/><path d="M123.2,541.98V565.67M121,541.98h4.4M121,565.67h4.4" stroke="#ff6666" stroke-width="0.8" fill="none"/><path d="M139.73,524.01V547.7M137.53,524.01h4.4M137.53,547.7h4.4" stroke="#ff6666" stroke-width="0.8" fill="none"/><path d="M160.38,518.29V534.63M158.18,518.29h4.4M158.18,534.63h4.4" stroke="#ff6666" stroke-width="0.8" fill="none"/><path d="M172.78,515.02V532.18M170.58,515.02h4.4M170.58,532.18h4.4" stroke="#ff6666" stroke-width="0.8" fill="none"/><path d="M185.17,528.09V559.14M182.97,528.09h4.4M182.97,559.14h4.4" stroke="#ff6666" stroke-width="0.8" fill="none"/><path d="M193.43,537.08V554.24M191.23,537.08h4.4M191.23,554.24h4.4" stroke="#ff6666" stroke-width="0.8" fill="none"/><path d="M201.7,537.08V554.24M199.5,537.08h4.4M199.5,554.24h4.4" stroke="#ff6666" stroke-width="0.8" fill="none"/><path d="M228.96,540.35V555.87M226.76,540.35h4.4M226.76,555.87h4.4" stroke="#ff6666" stroke-width="0.8" fill="none"/><polygon points="86.02,563.12 89.62,569.42 82.42,569.42" fill="#fff" stroke="#ff0000" stroke-width="0.9"/><polygon points="98.42,581.91 102.02,588.21 94.82,588.21" fill="#fff" stroke="#ff0000" stroke-width="0.9"/><polygon points="114.94,568.43 118.54,574.73 111.34,574.73" fill="#fff" stroke="#ff0000" stroke-width="0.9"/><polygon points="123.2,553.72 126.8,560.02 119.6,560.02" fill="#fff" stroke="#ff0000" stroke-width="0.9"/><polygon points="139.73,528.4 143.33,534.7 136.13,534.7" fill="#fff" stroke="#ff0000" stroke-width="0.9"/><polygon points="160.38,518.1 163.98,524.4 156.78,524.4" fill="#fff" stroke="#ff0000" stroke-width="0.9"/><polygon points="172.78,519.82 176.38,526.12 169.18,526.12" fill="#fff" stroke="#ff0000" stroke-width="0.9"/><polygon points="185.17,544.74 188.77,551.04 181.57,551.04" fill="#fff" stroke="#ff0000" stroke-width="0.9"/><polygon points="193.43,518.59 197.03,524.89 189.83,524.89" fill="#fff" stroke="#ff0000" stroke-width="0.9"/><polygon points="201.7,545.55 205.3,551.85 198.1,551.85" fill="#fff" stroke="#ff0000" stroke-width="0.9"/><polygon points="228.96,548 232.56,554.3 225.36,554.3" fill="#fff" stroke="#ff0000" stroke-width="0.9"/><polygon points="86.02,569.85 89.82,576.5 82.22,576.5" fill="#ff0000"/><polygon points="98.42,582.11 102.22,588.76 94.62,588.76" fill="#ff0000"/><polygon points="114.94,545.34 118.74,551.99 111.14,551.99" fill="#ff0000"/><polygon points="123.2,546.16 127,552.81 119.4,552.81" fill="#ff0000"/><polygon points="139.73,534.72 143.53,541.37 135.93,541.37" fill="#ff0000"/><polygon points="160.38,521.65 164.18,528.3 156.58,528.3" fill="#ff0000"/><polygon points="172.78,520.02 176.58,526.67 168.98,526.67" fill="#ff0000"/><polygon points="185.17,532.27 188.97,538.92 181.37,538.92" fill="#ff0000"/><polygon points="193.43,541.26 197.23,547.91 189.63,547.91" fill="#ff0000"/><polygon points="201.7,541.26 205.5,547.91 197.9,547.91" fill="#ff0000"/><polygon points="228.96,543.71 232.76,550.36 225.16,550.36" fill="#ff0000"/>
<rect x="186.4" y="562.2" width="59.6" height="28.1" fill="#fff" stroke="#888" stroke-width="0.9"/>
<polygon points="198.7,564.82 202.3,571.12 195.1,571.12" fill="#fff" stroke="#ff0000" stroke-width="0.9"/>
<polygon points="198.7,577.51 202.5,584.16 194.9,584.16" fill="#ff0000"/>
<text x="209.5" y="573.3" font-size="10" font-style="italic">Z<tspan font-size="6.8" dy="2.3" font-style="normal">hole_phn</tspan></text>
<text x="209.5" y="586.3" font-size="10" font-style="italic">Z<tspan font-size="6.8" dy="2.3" font-style="normal">hole_fit</tspan></text>
<text x="77.5" y="522" font-size="18" font-weight="bold">d</text>
<text transform="translate(30.5,548) rotate(-90)" font-size="13" text-anchor="middle">S. W. (arb. u.)</text>
<rect x="69.5" y="595.3" width="185.9" height="94.2" fill="none" stroke="#1a1a1a" stroke-width="1.15"/>
<path d="M69.5,606h5M255.4,606h-5M69.5,626.83h5M255.4,626.83h-5M69.5,647.65h5M255.4,647.65h-5M69.5,668.48h5M255.4,668.48h-5M69.5,689.3h5M255.4,689.3h-5M69.5,616.41h2.5M255.4,616.41h-2.5M69.5,637.24h2.5M255.4,637.24h-2.5M69.5,658.06h2.5M255.4,658.06h-2.5M69.5,678.89h2.5M255.4,678.89h-2.5M90.16,595.3v4.5M90.16,689.5v-4.5M131.47,595.3v4.5M131.47,689.5v-4.5M172.78,595.3v4.5M172.78,689.5v-4.5M214.09,595.3v4.5M214.09,689.5v-4.5M110.81,595.3v2.5M110.81,689.5v-2.5M152.12,595.3v2.5M152.12,689.5v-2.5M193.43,595.3v2.5M193.43,689.5v-2.5M234.74,595.3v2.5M234.74,689.5v-2.5" stroke="#1a1a1a" stroke-width="1"/>
<text x="65.5" y="610.3" font-size="12" text-anchor="end" fill="#000" >10</text>
<text x="65.5" y="631.12" font-size="12" text-anchor="end" fill="#000" >15</text>
<text x="65.5" y="651.95" font-size="12" text-anchor="end" fill="#000" >20</text>
<text x="65.5" y="672.77" font-size="12" text-anchor="end" fill="#000" >25</text>
<text x="65.5" y="693.6" font-size="12" text-anchor="end" fill="#000" >30</text>
<text x="90.16" y="704.5" font-size="12" text-anchor="middle" fill="#000" >0.05</text>
<text x="131.47" y="704.5" font-size="12" text-anchor="middle" fill="#000" >0.10</text>
<text x="172.78" y="704.5" font-size="12" text-anchor="middle" fill="#000" >0.15</text>
<text x="214.09" y="704.5" font-size="12" text-anchor="middle" fill="#000" >0.20</text>
<text x="255.4" y="704.5" font-size="12" text-anchor="middle" fill="#000" >0.25</text>
<path d="M86.02,668.2V682.2M83.82,668.2h4.4M83.82,682.2h4.4" stroke="#555555" stroke-width="0.8" fill="none"/><path d="M98.42,675.3V689.3M96.22,675.3h4.4M96.22,689.3h4.4" stroke="#555555" stroke-width="0.8" fill="none"/><path d="M114.94,644.4V658.4M112.74,644.4h4.4M112.74,658.4h4.4" stroke="#555555" stroke-width="0.8" fill="none"/><path d="M123.2,639.1V653.1M121,639.1h4.4M121,653.1h4.4" stroke="#555555" stroke-width="0.8" fill="none"/><path d="M139.73,628V642M137.53,628h4.4M137.53,642h4.4" stroke="#555555" stroke-width="0.8" fill="none"/><path d="M160.38,615.3V629.3M158.18,615.3h4.4M158.18,629.3h4.4" stroke="#555555" stroke-width="0.8" fill="none"/><path d="M172.78,612.6V626.6M170.58,612.6h4.4M170.58,626.6h4.4" stroke="#555555" stroke-width="0.8" fill="none"/><path d="M185.17,628.4V642.4M182.97,628.4h4.4M182.97,642.4h4.4" stroke="#555555" stroke-width="0.8" fill="none"/><path d="M193.43,628.4V642.4M191.23,628.4h4.4M191.23,642.4h4.4" stroke="#555555" stroke-width="0.8" fill="none"/><path d="M201.7,632V646M199.5,632h4.4M199.5,646h4.4" stroke="#555555" stroke-width="0.8" fill="none"/><path d="M228.96,637.6V651.6M226.76,637.6h4.4M226.76,651.6h4.4" stroke="#555555" stroke-width="0.8" fill="none"/><rect x="83.32" y="672.5" width="5.4" height="5.4" fill="#000"/><rect x="95.72" y="679.6" width="5.4" height="5.4" fill="#000"/><rect x="112.24" y="648.7" width="5.4" height="5.4" fill="#000"/><rect x="120.5" y="643.4" width="5.4" height="5.4" fill="#000"/><rect x="137.03" y="632.3" width="5.4" height="5.4" fill="#000"/><rect x="157.68" y="619.6" width="5.4" height="5.4" fill="#000"/><rect x="170.08" y="616.9" width="5.4" height="5.4" fill="#000"/><rect x="182.47" y="632.7" width="5.4" height="5.4" fill="#000"/><rect x="190.73" y="632.7" width="5.4" height="5.4" fill="#000"/><rect x="199" y="636.3" width="5.4" height="5.4" fill="#000"/><rect x="226.26" y="641.9" width="5.4" height="5.4" fill="#000"/>
<rect x="207.3" y="663.2" width="38.6" height="15.3" fill="#fff" stroke="#888" stroke-width="0.9"/>
<rect x="215.6" y="668.2" width="5" height="5" fill="#000"/>
<text x="228" y="673" font-size="9.5">Δ<tspan font-size="7" dy="2">hole</tspan></text>
<text x="77.5" y="615.5" font-size="18" font-weight="bold">e</text>
<text transform="translate(30.5,642.5) rotate(-90)" font-size="13" text-anchor="middle">B. E. (meV)</text>
<text x="165.3" y="721.5" font-size="13.3" text-anchor="middle">Electron doping (<tspan font-style="italic">n</tspan>)</text>
</g>
<g id="pf">
<path d="M338.2,408.1H617V689.3H338.2" fill="none" stroke="#1a1a1a" stroke-width="1.2"/>
<line x1="338.2" y1="408.1" x2="338.2" y2="689.3" stroke="#ff0000" stroke-width="1.2"/>
<path d="M361.5,408.1v7M361.5,689.3v-7M407.95,408.1v7M407.95,689.3v-7M454.4,408.1v7M454.4,689.3v-7M500.85,408.1v7M500.85,689.3v-7M547.3,408.1v7M547.3,689.3v-7M593.75,408.1v7M593.75,689.3v-7M384.73,408.1v3.8M384.73,689.3v-3.8M431.18,408.1v3.8M431.18,689.3v-3.8M477.62,408.1v3.8M477.62,689.3v-3.8M524.08,408.1v3.8M524.08,689.3v-3.8M570.52,408.1v3.8M570.52,689.3v-3.8M617,619h-7.5M617,548.7h-7.5M617,478.4h-7.5M617,654.15h-4M617,583.85h-4M617,513.55h-4M617,443.25h-4" stroke="#1a1a1a" stroke-width="1"/>
<path d="M338.2,619h7.5M338.2,548.7h7.5M338.2,478.4h7.5M338.2,654.15h4M338.2,583.85h4M338.2,513.55h4M338.2,443.25h4" stroke="#ff0000" stroke-width="1"/>
<text x="330.5" y="693.5" font-size="12" text-anchor="end" fill="#ff0000" >0.00</text>
<text x="330.5" y="623.2" font-size="12" text-anchor="end" fill="#ff0000" >0.25</text>
<text x="330.5" y="552.9" font-size="12" text-anchor="end" fill="#ff0000" >0.50</text>
<text x="330.5" y="482.6" font-size="12" text-anchor="end" fill="#ff0000" >0.75</text>
<text x="330.5" y="412.3" font-size="12" text-anchor="end" fill="#ff0000" >1.00</text>
<text x="625" y="412.3" font-size="12" text-anchor="start" fill="#000" >10</text>
<text x="625" y="482.6" font-size="12" text-anchor="start" fill="#000" >15</text>
<text x="625" y="552.9" font-size="12" text-anchor="start" fill="#000" >20</text>
<text x="625" y="623.2" font-size="12" text-anchor="start" fill="#000" >25</text>
<text x="625" y="693.5" font-size="12" text-anchor="start" fill="#000" >30</text>
<text x="361.5" y="705" font-size="12" text-anchor="middle" fill="#000" >0</text>
<text x="407.95" y="705" font-size="12" text-anchor="middle" fill="#000" >5</text>
<text x="454.4" y="705" font-size="12" text-anchor="middle" fill="#000" >10</text>
<text x="500.85" y="705" font-size="12" text-anchor="middle" fill="#000" >15</text>
<text x="547.3" y="705" font-size="12" text-anchor="middle" fill="#000" >20</text>
<text x="593.75" y="705" font-size="12" text-anchor="middle" fill="#000" >25</text>
<text x="477.8" y="721" font-size="13" text-anchor="middle"><tspan font-style="italic">T</tspan><tspan font-size="9" dy="2.5">c</tspan><tspan dy="-2.5"> (K)</tspan></text>
<text transform="translate(296,548.7) rotate(-90)" font-size="13.2" text-anchor="middle" fill="#ff0000">Spectral weight (arb. units)</text>
<text transform="translate(651,548.2) rotate(90)" font-size="13.3" text-anchor="middle">Binding energy (meV)</text>
<text x="345.5" y="431" font-size="18" font-weight="bold">f</text>
<line x1="361.5" y1="584" x2="361.5" y2="689.3" stroke="#ff0000" stroke-width="0.9"/><line x1="457" y1="612" x2="457" y2="634" stroke="#ff0000" stroke-width="0.9"/><line x1="457" y1="545" x2="457" y2="584" stroke="#333" stroke-width="0.9"/><line x1="457" y1="517" x2="457" y2="575" stroke="#ff0000" stroke-width="0.9"/><line x1="463.41" y1="513" x2="463.41" y2="570" stroke="#ff0000" stroke-width="0.9"/><line x1="482.27" y1="496" x2="482.27" y2="540" stroke="#333" stroke-width="0.9"/><line x1="482.27" y1="512" x2="482.27" y2="599" stroke="#ff0000" stroke-width="0.9"/><line x1="519.43" y1="457.6" x2="519.43" y2="539" stroke="#ff0000" stroke-width="0.9"/><line x1="528.72" y1="484.7" x2="528.72" y2="530" stroke="#333" stroke-width="0.9"/><line x1="528.72" y1="505" x2="528.72" y2="560" stroke="#ff0000" stroke-width="0.9"/><line x1="528.72" y1="449.7" x2="528.72" y2="461.9" stroke="#ff0000" stroke-width="0.9"/><line x1="544.51" y1="472.4" x2="544.51" y2="577.8" stroke="#ff0000" stroke-width="0.9"/><line x1="556.59" y1="437" x2="556.59" y2="493.5" stroke="#ff0000" stroke-width="0.9"/><line x1="589.11" y1="426" x2="589.11" y2="482.1" stroke="#ff0000" stroke-width="0.9"/><line x1="361.5" y1="672" x2="361.5" y2="689.3" stroke="#333" stroke-width="0.9"/><rect x="358.5" y="637.9" width="6" height="6" fill="#000"/><rect x="358.5" y="661.7" width="6" height="6" fill="#000"/><rect x="454" y="557.8" width="6" height="6" fill="#000"/><rect x="460.41" y="535.1" width="6" height="6" fill="#000"/><rect x="479.27" y="516.4" width="6" height="6" fill="#000"/><rect x="516.43" y="502.4" width="6" height="6" fill="#000"/><rect x="525.72" y="504.7" width="6" height="6" fill="#000"/><rect x="541.51" y="504.7" width="6" height="6" fill="#000"/><rect x="553.59" y="459.8" width="6" height="6" fill="#000"/><rect x="586.11" y="450.7" width="6" height="6" fill="#000"/><polygon points="361.5,600.89 365.7,608.24 357.3,608.24" fill="#fff" stroke="#ff0000" stroke-width="1"/><polygon points="361.5,667.79 365.7,675.14 357.3,675.14" fill="#fff" stroke="#ff0000" stroke-width="1"/><polygon points="457,617.19 461.2,624.54 452.8,624.54" fill="#fff" stroke="#ff0000" stroke-width="1"/><polygon points="463.41,550.79 467.61,558.14 459.21,558.14" fill="#fff" stroke="#ff0000" stroke-width="1"/><polygon points="482.27,538.39 486.47,545.74 478.07,545.74" fill="#fff" stroke="#ff0000" stroke-width="1"/><polygon points="482.27,566.89 486.47,574.24 478.07,574.24" fill="#fff" stroke="#ff0000" stroke-width="1"/><polygon points="519.43,482.89 523.63,490.24 515.23,490.24" fill="#fff" stroke="#ff0000" stroke-width="1"/><polygon points="528.72,450.19 532.92,457.54 524.52,457.54" fill="#fff" stroke="#ff0000" stroke-width="1"/><polygon points="544.51,537.69 548.71,545.04 540.31,545.04" fill="#fff" stroke="#ff0000" stroke-width="1"/><polygon points="556.59,447.59 560.79,454.94 552.39,454.94" fill="#fff" stroke="#ff0000" stroke-width="1"/><polygon points="589.11,453.19 593.31,460.54 584.9,460.54" fill="#fff" stroke="#ff0000" stroke-width="1"/><polygon points="361.5,625.48 365.9,633.18 357.1,633.18" fill="#ff0000"/><polygon points="457,540.48 461.4,548.18 452.6,548.18" fill="#ff0000"/><polygon points="463.41,535.38 467.81,543.08 459.01,543.08" fill="#ff0000"/><polygon points="482.27,524.18 486.67,531.88 477.87,531.88" fill="#ff0000"/><polygon points="482.27,543.98 486.67,551.68 477.87,551.68" fill="#ff0000"/><polygon points="519.43,504.98 523.83,512.68 515.03,512.68" fill="#ff0000"/><polygon points="528.72,527.18 533.12,534.88 524.32,534.88" fill="#ff0000"/><polygon points="544.51,495.88 548.91,503.58 540.11,503.58" fill="#ff0000"/><polygon points="556.59,459.98 560.99,467.68 552.19,467.68" fill="#ff0000"/><polygon points="589.11,450.28 593.5,457.98 584.71,457.98" fill="#ff0000"/>
<polygon points="543.1,619.5 547.2,626.67 539,626.67" fill="#fff" stroke="#ff0000" stroke-width="1"/>
<text x="555.5" y="628.4" font-size="12" font-style="italic">Z<tspan font-size="8" dy="3" font-style="normal">hole_phn</tspan></text>
<polygon points="543.1,636.5 547.2,643.67 539,643.67" fill="#ff0000"/>
<text x="555.5" y="645.8" font-size="12" font-style="italic">Z<tspan font-size="8" dy="3" font-style="normal">hole_fit</tspan></text>
<rect x="540.2" y="657" width="5.6" height="5.8" fill="#000"/>
<text x="556" y="664.2" font-size="11">Δ<tspan font-size="8" dy="3">hole</tspan></text>
</g>
</svg></body></html>
